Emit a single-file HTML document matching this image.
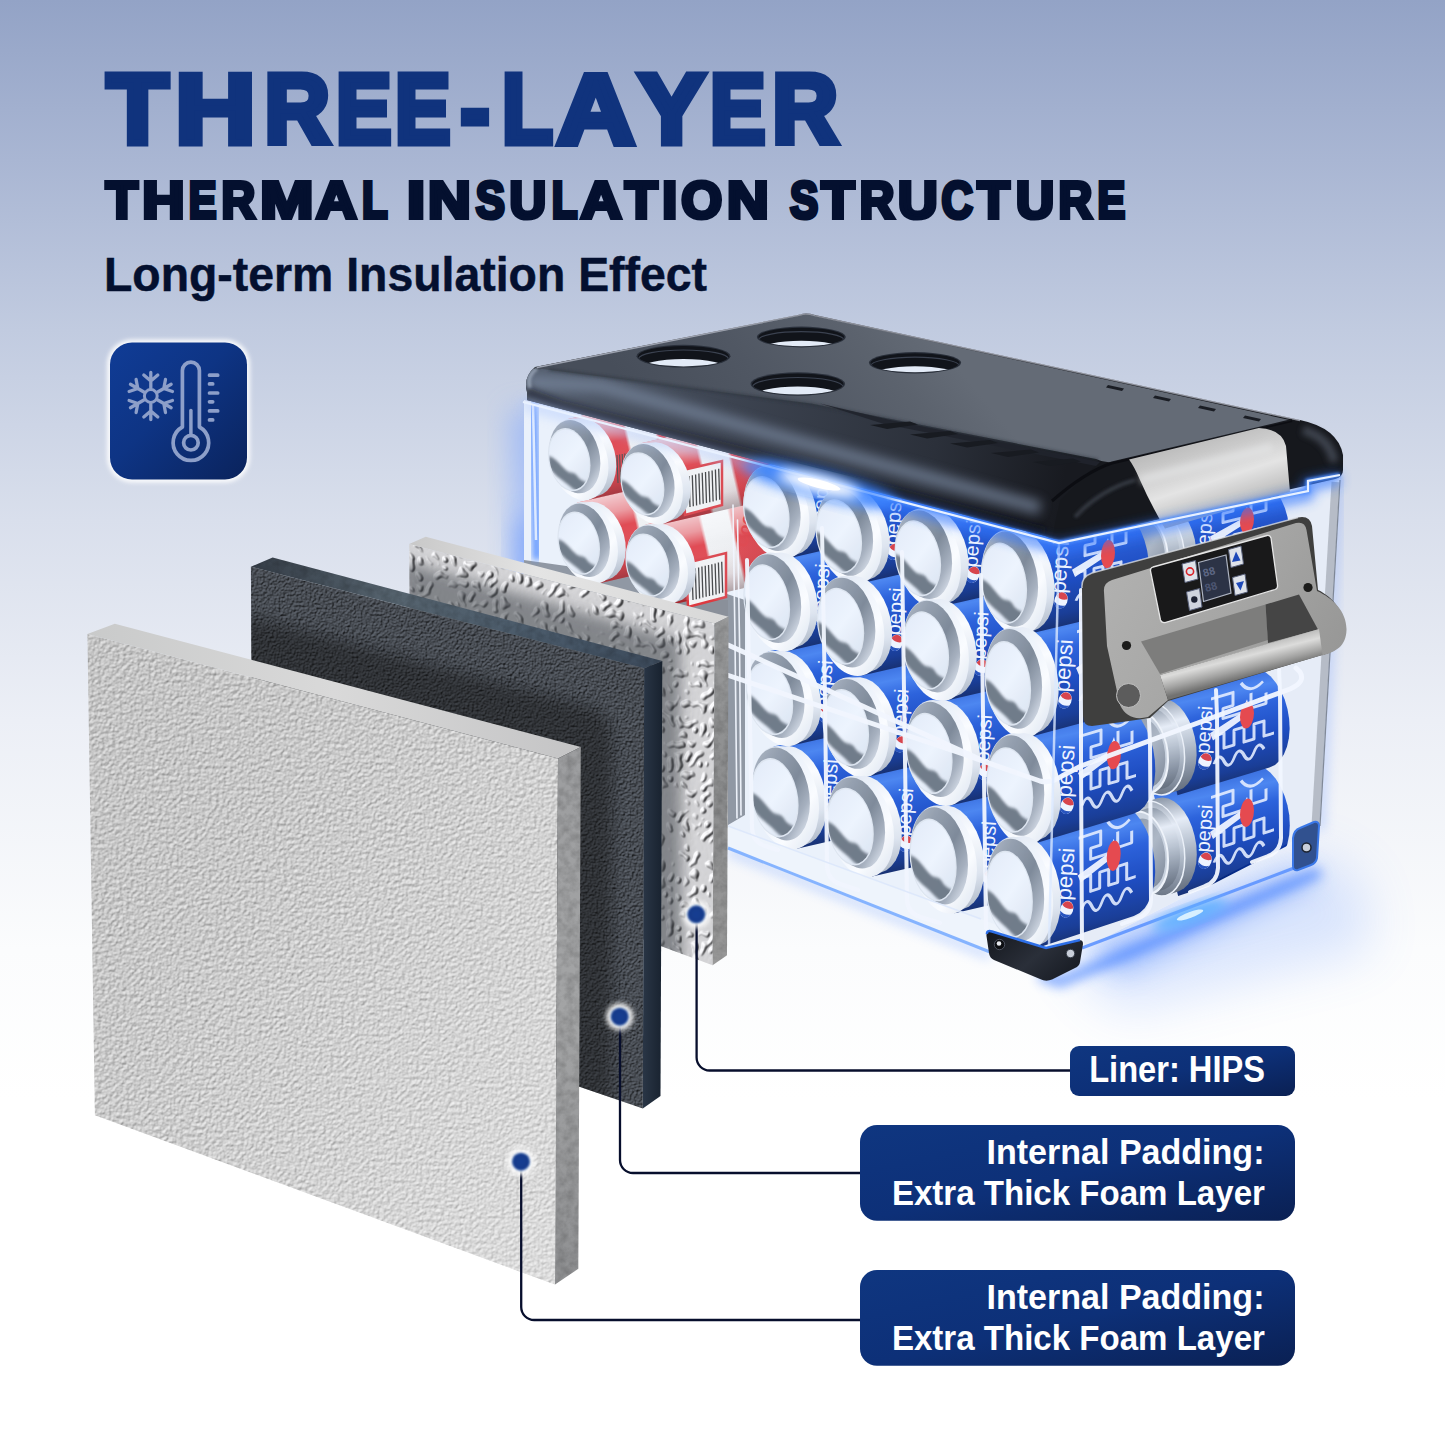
<!DOCTYPE html>
<html lang="en">
<head>
<meta charset="utf-8">
<title>Three-Layer Thermal Insulation Structure</title>
<style>
html,body{margin:0;padding:0;background:#fff;}
body{width:1445px;height:1445px;overflow:hidden;position:relative;font-family:"Liberation Sans",sans-serif;}
#bg{position:absolute;left:0;top:0;width:1445px;height:1445px;
background:linear-gradient(180deg,#93a3c6 0px,#a9b6d3 160px,#c1cbe0 330px,#d9dfec 520px,#eceff6 720px,#fbfcfd 950px,#ffffff 1100px);}
svg{position:absolute;left:0;top:0;}
text{font-family:"Liberation Sans",sans-serif;font-weight:bold;}
</style>
</head>
<body>
<div id="bg"></div>
<svg id="art" width="1445" height="1445" viewBox="0 0 1445 1445">
<defs>
<linearGradient id="icg" x1="0" y1="0" x2="1" y2="1">
<stop offset="0" stop-color="#103c96"/><stop offset="0.45" stop-color="#0e3484"/><stop offset="1" stop-color="#0a235c"/>
</linearGradient>
<linearGradient id="lbg" x1="0" y1="0" x2="1" y2="1">
<stop offset="0" stop-color="#0f3680"/><stop offset="0.5" stop-color="#0d3078"/><stop offset="1" stop-color="#0a2053"/>
</linearGradient>
<filter id="blur3" x="-20%" y="-20%" width="140%" height="140%"><feGaussianBlur stdDeviation="2.2"/></filter>
<filter id="blur2" x="-50%" y="-50%" width="200%" height="200%"><feGaussianBlur stdDeviation="2.5"/></filter>

<filter id="texFront" x="0" y="0" width="100%" height="100%" color-interpolation-filters="sRGB">
  <feTurbulence type="fractalNoise" baseFrequency="0.28" numOctaves="2" seed="7" result="n"/>
  <feDiffuseLighting in="n" surfaceScale="0.75" diffuseConstant="1" lighting-color="#f5f5f5" result="l"><feDistantLight azimuth="235" elevation="56"/></feDiffuseLighting>
  <feComposite in="l" in2="SourceAlpha" operator="in"/>
</filter>
<filter id="texDark" x="0" y="0" width="100%" height="100%" color-interpolation-filters="sRGB">
  <feTurbulence type="fractalNoise" baseFrequency="0.45" numOctaves="2" seed="11" result="n"/>
  <feDiffuseLighting in="n" surfaceScale="1.6" diffuseConstant="1" lighting-color="#5f656e" result="l"><feDistantLight azimuth="235" elevation="50"/></feDiffuseLighting>
  <feComposite in="l" in2="SourceAlpha" operator="in"/>
</filter>
<filter id="texLiner" x="0" y="0" width="100%" height="100%" color-interpolation-filters="sRGB">
  <feTurbulence type="turbulence" baseFrequency="0.12 0.10" numOctaves="1" seed="5" result="n"/>
  <feComponentTransfer in="n" result="n2"><feFuncA type="table" tableValues="0 0.02 0.6 1 1 1"/></feComponentTransfer>
  <feGaussianBlur in="n2" stdDeviation="0.55" result="n3"/>
  <feDiffuseLighting in="n3" surfaceScale="1.9" diffuseConstant="1" lighting-color="#ffffff" result="l"><feDistantLight azimuth="215" elevation="52"/></feDiffuseLighting>
  <feComponentTransfer in="l" result="l2"><feFuncR type="linear" slope="0.8" intercept="0.2"/><feFuncG type="linear" slope="0.8" intercept="0.2"/><feFuncB type="linear" slope="0.8" intercept="0.21"/></feComponentTransfer>
  <feComposite in="l2" in2="SourceAlpha" operator="in"/>
</filter>
<filter id="texSide" x="0" y="0" width="100%" height="100%" color-interpolation-filters="sRGB">
  <feTurbulence type="fractalNoise" baseFrequency="0.12" numOctaves="3" seed="2" result="n"/>
  <feColorMatrix in="n" type="matrix" values="0 0 0 0 0  0 0 0 0 0  0 0 0 0 0  0.3 0 0 0 -0.1" result="a"/>
  <feComposite in="a" in2="SourceAlpha" operator="in" result="b"/>
  <feMerge><feMergeNode in="SourceGraphic"/><feMergeNode in="b"/></feMerge>
</filter>
<filter id="sh12" x="-30%" y="-30%" width="160%" height="160%"><feGaussianBlur stdDeviation="12"/></filter>
<filter id="sh7" x="-30%" y="-30%" width="160%" height="160%"><feGaussianBlur stdDeviation="7"/></filter>
<linearGradient id="gFrontOv" x1="0" y1="0" x2="1" y2="1">
 <stop offset="0" stop-color="#000" stop-opacity="0.03"/><stop offset="0.5" stop-color="#fff" stop-opacity="0.06"/><stop offset="1" stop-color="#fff" stop-opacity="0.34"/>
</linearGradient>
<linearGradient id="gFrontTop" x1="0" y1="0" x2="1" y2="0">
 <stop offset="0" stop-color="#c9caca"/><stop offset="0.5" stop-color="#d9d9d9"/><stop offset="1" stop-color="#c4c4c5"/>
</linearGradient>
<linearGradient id="gFrontSide" x1="0" y1="0" x2="0" y2="1">
 <stop offset="0" stop-color="#9c9d9f"/><stop offset="0.5" stop-color="#a3a4a5"/><stop offset="1" stop-color="#8f9092"/>
</linearGradient>
<linearGradient id="gDarkTop" x1="0" y1="0" x2="1" y2="0">
 <stop offset="0" stop-color="#353d47"/><stop offset="0.35" stop-color="#56646f"/><stop offset="0.7" stop-color="#4a5a6a"/><stop offset="1" stop-color="#3c4a5b"/>
</linearGradient>
<linearGradient id="gDarkSide" x1="0" y1="0" x2="1" y2="0">
 <stop offset="0" stop-color="#2a3646"/><stop offset="1" stop-color="#18222f"/>
</linearGradient>
<linearGradient id="gLinerTop" x1="0" y1="0" x2="1" y2="0">
 <stop offset="0" stop-color="#c8c8c8"/><stop offset="0.4" stop-color="#e4e4e4"/><stop offset="1" stop-color="#d8d8d8"/>
</linearGradient>
<linearGradient id="gLinerSide" x1="0" y1="0" x2="0" y2="1">
 <stop offset="0" stop-color="#9a9b9c"/><stop offset="0.5" stop-color="#8c8d8e"/><stop offset="1" stop-color="#9a9a9a"/>
</linearGradient>
<clipPath id="cpDarkFront"><polygon points="250.9,566.8 644.2,668.3 642.8,1108.6 253,974.5"/></clipPath>
<clipPath id="cpLinerFront"><polygon points="409.2,543.9 714.6,623.5 712.6,965.3 411,853.7"/></clipPath>

<filter id="b1" x="-30%" y="-30%" width="160%" height="160%"><feGaussianBlur stdDeviation="1.6"/></filter>
<filter id="bl6" x="-30%" y="-30%" width="160%" height="160%"><feGaussianBlur stdDeviation="6"/></filter>
<filter id="bl14" x="-50%" y="-50%" width="200%" height="200%"><feGaussianBlur stdDeviation="14"/></filter>
<filter id="bl25" x="-50%" y="-50%" width="200%" height="200%"><feGaussianBlur stdDeviation="25"/></filter>
<linearGradient id="gRim" x1="0" y1="0.1" x2="1" y2="0.9">
 <stop offset="0" stop-color="#d6dde8"/><stop offset="0.35" stop-color="#eef3fa"/><stop offset="0.7" stop-color="#ffffff"/><stop offset="1" stop-color="#dde4ee"/>
</linearGradient>
<linearGradient id="gRim2" x1="0" y1="0" x2="1" y2="0.75">
 <stop offset="0" stop-color="#b4bcc8"/><stop offset="0.3" stop-color="#8f99a7"/><stop offset="0.62" stop-color="#76818f"/><stop offset="0.85" stop-color="#a3acb9"/><stop offset="1" stop-color="#d9dfe8"/>
</linearGradient>
<linearGradient id="gDisc" x1="0" y1="0" x2="1" y2="1">
 <stop offset="0" stop-color="#e4ecf8"/><stop offset="0.5" stop-color="#f1f6fe"/><stop offset="1" stop-color="#d9e2ee"/>
</linearGradient>
<linearGradient id="gBlueBody" x1="0" y1="0" x2="0.2" y2="1">
 <stop offset="0" stop-color="#3d7bea"/><stop offset="0.18" stop-color="#1b55d6"/><stop offset="0.5" stop-color="#0c3fc0"/><stop offset="0.85" stop-color="#07308f"/><stop offset="1" stop-color="#052670"/>
</linearGradient>
<linearGradient id="gRedBody" x1="0" y1="0" x2="0.2" y2="1">
 <stop offset="0" stop-color="#f3a0a0"/><stop offset="0.2" stop-color="#e8434a"/><stop offset="0.6" stop-color="#d8232c"/><stop offset="1" stop-color="#a5161e"/>
</linearGradient>

<filter id="b3" x="-30%" y="-30%" width="160%" height="160%"><feGaussianBlur stdDeviation="3"/></filter>
<linearGradient id="gBlueBodyU" gradientUnits="userSpaceOnUse" x1="-11" y1="-50" x2="11" y2="50">
 <stop offset="0" stop-color="#2e68e0"/><stop offset="0.12" stop-color="#3f7df0"/><stop offset="0.3" stop-color="#1b55d8"/><stop offset="0.6" stop-color="#0b3cba"/><stop offset="0.88" stop-color="#062c8c"/><stop offset="1" stop-color="#041f66"/>
</linearGradient>
<linearGradient id="gRedBodyU" gradientUnits="userSpaceOnUse" x1="-11" y1="-50" x2="11" y2="50">
 <stop offset="0" stop-color="#f7c4c4"/><stop offset="0.15" stop-color="#f5f5f5"/><stop offset="0.3" stop-color="#e8424a"/><stop offset="0.7" stop-color="#d8232c"/><stop offset="1" stop-color="#9c141c"/>
</linearGradient>
<linearGradient id="gEnd" x1="0" y1="0" x2="1" y2="1"><stop offset="0" stop-color="#7b8696"/><stop offset="0.5" stop-color="#aab3c0"/><stop offset="1" stop-color="#6d7786"/></linearGradient>
<linearGradient id="gLidTop" gradientUnits="userSpaceOnUse" x1="700" y1="470" x2="900" y2="300">
 <stop offset="0" stop-color="#474e5a"/><stop offset="0.4" stop-color="#505763"/><stop offset="0.8" stop-color="#5c636e"/><stop offset="1" stop-color="#646b76"/>
</linearGradient>
<linearGradient id="gLidFront" gradientUnits="userSpaceOnUse" x1="540" y1="390" x2="1060" y2="500">
 <stop offset="0" stop-color="#535d6d"/><stop offset="0.35" stop-color="#3d4451"/><stop offset="0.75" stop-color="#2b303a"/><stop offset="1" stop-color="#181a20"/>
</linearGradient>
<linearGradient id="gLatch" gradientUnits="userSpaceOnUse" x1="1195" y1="440" x2="1222" y2="525">
 <stop offset="0" stop-color="#bcbcbc"/><stop offset="0.3" stop-color="#d2d2d2"/><stop offset="0.5" stop-color="#e4e4e4"/><stop offset="0.75" stop-color="#c6c6c6"/><stop offset="1" stop-color="#9c9c9c"/>
</linearGradient>
<linearGradient id="gHandle" gradientUnits="userSpaceOnUse" x1="1110" y1="560" x2="1330" y2="680">
 <stop offset="0" stop-color="#b1b1b0"/><stop offset="0.5" stop-color="#a6a6a5"/><stop offset="1" stop-color="#979796"/>
</linearGradient>
<linearGradient id="gGrip" gradientUnits="userSpaceOnUse" x1="1236" y1="650" x2="1243" y2="678">
 <stop offset="0" stop-color="#bdbdbc"/><stop offset="0.3" stop-color="#dcdcdb"/><stop offset="0.7" stop-color="#a3a3a2"/><stop offset="1" stop-color="#727271"/>
</linearGradient>
<linearGradient id="gFoot" x1="0" y1="0" x2="1" y2="0.6">
 <stop offset="0" stop-color="#14171d"/><stop offset="0.6" stop-color="#2a2f39"/><stop offset="1" stop-color="#1a1e26"/>
</linearGradient>
<linearGradient id="gNeckU" gradientUnits="userSpaceOnUse" x1="-11" y1="-50" x2="11" y2="50">
 <stop offset="0" stop-color="#e9eef6"/><stop offset="0.3" stop-color="#ffffff"/><stop offset="0.7" stop-color="#dfe5ee"/><stop offset="1" stop-color="#aeb7c4"/>
</linearGradient>
<linearGradient id="gNeck2U" gradientUnits="userSpaceOnUse" x1="-11" y1="-50" x2="11" y2="50">
 <stop offset="0" stop-color="#8b95a3"/><stop offset="0.25" stop-color="#e9eef6"/><stop offset="0.5" stop-color="#b9c2ce"/><stop offset="0.8" stop-color="#7d8796"/><stop offset="1" stop-color="#59626f"/>
</linearGradient>
<linearGradient id="gRedAxU" gradientUnits="userSpaceOnUse" x1="0" y1="0" x2="140" y2="-32">
 <stop offset="0" stop-color="#e23b42"/><stop offset="0.44" stop-color="#e23b42"/><stop offset="0.47" stop-color="#f3f3f3"/><stop offset="0.70" stop-color="#f1f1f1"/><stop offset="0.73" stop-color="#e03a40"/><stop offset="1" stop-color="#d7333a"/>
</linearGradient>
<linearGradient id="gShadeU" gradientUnits="userSpaceOnUse" x1="-11" y1="-50" x2="11" y2="50">
 <stop offset="0" stop-color="#ffffff" stop-opacity="0.7"/><stop offset="0.2" stop-color="#ffffff" stop-opacity="0.45"/><stop offset="0.38" stop-color="#ffffff" stop-opacity="0"/><stop offset="0.8" stop-color="#5a0a10" stop-opacity="0.12"/><stop offset="1" stop-color="#300508" stop-opacity="0.35"/>
</linearGradient>
<filter id="b08" x="-30%" y="-30%" width="160%" height="160%"><feGaussianBlur stdDeviation="0.9"/></filter>
<radialGradient id="gDot"><stop offset="0" stop-color="#143f93"/><stop offset="0.7" stop-color="#123a8a"/><stop offset="1" stop-color="#1a4596"/></radialGradient>
</defs>

<!--PANELS-->
<g id="cooler">
<g id="glowBack">
<path d="M510,410 L516,640 L556,650 L556,410 Z" fill="#86abff" opacity="0.6" filter="url(#bl14)"/>
<path d="M516,520 L520,640 L545,645 L545,520 Z" fill="#4f86ff" opacity="0.5" filter="url(#bl14)"/>
<path d="M1060,950 L1310,850 L1362,880 L1372,950 L1120,1012 Z" fill="#5a8eff" opacity="0.2" filter="url(#bl25)"/>
<path d="M1085,950 L1300,868 L1320,880 L1120,975 Z" fill="#3f7dff" opacity="0.42" filter="url(#bl14)"/>
<path d="M728,851 L990,956" fill="none" stroke="#6a9bff" stroke-width="7" opacity="0.4" filter="url(#bl6)"/>
<path d="M1040,975 L1060,982 L1320,872" fill="none" stroke="#3d7bff" stroke-width="10" opacity="0.7" filter="url(#bl6)"/>
<path d="M1338,480 L1320,830" fill="none" stroke="#7aa2ff" stroke-width="8" opacity="0.45" filter="url(#bl6)"/>
</g>
<g id="interior">
<polygon points="524,400 1059,541 1340,476 1318,828 1075,953 1048,972 990,952 728,848 728,600 524,600" fill="#eef3fb"/>
<polygon points="524,560 700,585 745,600 745,815 728,825 728,640 524,640" fill="#8a909a"/>
<polygon points="1059,541 1340,476 1318,828 1075,953 1048,972" fill="#e9eef7"/>
<polygon points="728,826 981,919 1048,945 1048,972 990,952 728,848" fill="#f2f6fc"/>
</g>
<clipPath id="cpRight"><polygon points="1040,520 1338,470 1318,830 1075,955 1048,974 1040,974"/></clipPath>
<clipPath id="cpBox"><polygon points="522,396 1059,536 1340,470 1318,830 1075,955 1048,974 990,956 728,852 500,760"/></clipPath>
<g id="cansRight" clip-path="url(#cpRight)">
<g transform="translate(1166.0,845.4) scale(1.008)"><polygon points="-12.0,-50.1 79.3,-80.2 85.2,-81.1 91.4,-80.1 97.5,-77.1 103.4,-72.4 108.9,-66.0 113.7,-58.2 117.6,-49.3 120.5,-39.8 122.3,-29.8 122.8,-19.9 122.2,-10.3 120.4,-1.5 117.5,6.2 113.5,12.5 108.7,17.1 103.3,20.0 12.0,50.1" fill="url(#gBlueBodyU)"/></g>
<text transform="translate(1211.0,828.9) rotate(-86)" text-anchor="middle" font-size="20" fill="#f2f6ff" style="font-weight:normal">pepsi</text>
<g transform="translate(1205.0,860.6) rotate(20)"><ellipse rx="6.5" ry="8.5" fill="#f2f6ff"/><path d="M-5.8,-3 A6.3,8.3 0 0 1 5.8,-3 Q0,1 -5.8,-3Z" fill="#d8343a"/><path d="M-5.8,3.5 A6.3,8.3 0 0 0 5.8,3.5 Q0,7 -5.8,3.5Z" fill="#1746b8"/></g>
<g transform="matrix(1 -0.33 0 1 1210.0 830.9)">
<g fill="none" stroke="#e6eeff" stroke-width="3" opacity="0.9" stroke-linejoin="round">
<path d="M1,-33 h22 v13 h-10 v10 h22"/>
<path d="M4,5 h10 v15 h10 v-15 h10 v15 h10 v-15 h10 v15 h10"/>
<path d="M4,33 q5,-11 10,0 t10,0 t10,0 t10,0 t10,0"/>
<path d="M31,-40 q9,15 22,5"/>
<path d="M41,-28 v15 h15 v-11"/>
</g>
<path d="M0,1 l31,-11 l6,-12 l4,15 l-38,16 Z" fill="#f2f6ff" opacity="0.95"/>
<ellipse cx="37" cy="-6" rx="7" ry="14" fill="#e8393d"/>
</g>
<g transform="translate(1156.0,848.7) scale(0.927)"><polygon points="-11.6,-50.1 1.3,-54.4 7.1,-55.2 13.2,-54.2 19.3,-51.2 25.1,-46.4 30.4,-40.0 35.1,-32.2 38.9,-23.4 41.7,-13.8 43.5,-3.8 44.0,6.1 43.4,15.7 41.5,24.4 38.6,32.1 34.7,38.4 30.0,43.0 24.6,45.8 11.6,50.1" fill="url(#gNeck2U)"/></g>
<g transform="translate(1156.0,848.7) skewY(17.74)"><ellipse rx="28.8" ry="46.4" fill="url(#gNeck2U)" stroke="#eef2f8" stroke-width="1.5"/></g>
<g transform="translate(1144.0,852.7) scale(0.806)"><polygon points="-10.8,-50.1 4.0,-55.0 9.7,-55.8 15.5,-54.7 21.4,-51.7 26.9,-46.8 32.0,-40.4 36.5,-32.6 40.1,-23.7 42.8,-14.1 44.3,-4.2 44.8,5.8 44.1,15.3 42.3,24.0 39.4,31.6 35.6,37.8 31.0,42.4 25.7,45.2 10.8,50.1" fill="url(#gNeck2U)"/></g>
<g transform="translate(1144.0,852.7) skewY(17.74)"><ellipse rx="24.1" ry="40.3" fill="#c9d1dc" stroke="#f2f5fa" stroke-width="2"/><ellipse cx="2" rx="19.4" ry="34.3" fill="url(#gEnd)"/></g>
<g transform="translate(1166.0,745.5) scale(0.990)"><polygon points="-11.6,-50.2 81.3,-78.1 87.4,-78.8 93.6,-77.7 99.8,-74.6 105.8,-69.7 111.2,-63.2 116.0,-55.3 119.9,-46.4 122.7,-36.8 124.4,-26.8 124.9,-16.9 124.1,-7.4 122.2,1.3 119.1,8.9 115.0,15.1 110.1,19.6 104.5,22.3 11.6,50.2" fill="url(#gBlueBodyU)"/></g>
<text transform="translate(1211.0,730.1) rotate(-86)" text-anchor="middle" font-size="20" fill="#f2f6ff" style="font-weight:normal">pepsi</text>
<g transform="translate(1205.0,761.3) rotate(20)"><ellipse rx="6.5" ry="8.5" fill="#f2f6ff"/><path d="M-5.8,-3 A6.3,8.3 0 0 1 5.8,-3 Q0,1 -5.8,-3Z" fill="#d8343a"/><path d="M-5.8,3.5 A6.3,8.3 0 0 0 5.8,3.5 Q0,7 -5.8,3.5Z" fill="#1746b8"/></g>
<g transform="matrix(1 -0.3 0 1 1210.0 732.3)">
<g fill="none" stroke="#e6eeff" stroke-width="3" opacity="0.9" stroke-linejoin="round">
<path d="M1,-33 h22 v13 h-10 v10 h22"/>
<path d="M4,5 h10 v15 h10 v-15 h10 v15 h10 v-15 h10 v15 h10"/>
<path d="M4,33 q5,-11 10,0 t10,0 t10,0 t10,0 t10,0"/>
<path d="M31,-40 q9,15 22,5"/>
<path d="M41,-27 v15 h15 v-11"/>
</g>
<path d="M0,1 l31,-11 l6,-12 l4,15 l-38,16 Z" fill="#f2f6ff" opacity="0.95"/>
<ellipse cx="37" cy="-6" rx="7" ry="13" fill="#e8393d"/>
</g>
<g transform="translate(1156.0,748.5) scale(0.911)"><polygon points="-11.3,-50.2 1.9,-54.1 7.9,-54.9 14.0,-53.7 20.1,-50.6 26.0,-45.7 31.3,-39.2 36.0,-31.3 39.8,-22.4 42.5,-12.8 44.2,-2.8 44.6,7.1 43.8,16.6 41.9,25.3 38.8,32.9 34.8,39.0 29.9,43.5 24.4,46.2 11.3,50.2" fill="url(#gNeck2U)"/></g>
<g transform="translate(1156.0,748.5) skewY(17.22)"><ellipse rx="28.6" ry="45.5" fill="url(#gNeck2U)" stroke="#eef2f8" stroke-width="1.5"/></g>
<g transform="translate(1144.0,752.1) scale(0.792)"><polygon points="-10.5,-50.2 4.7,-54.7 10.4,-55.4 16.3,-54.1 22.2,-51.0 27.8,-46.0 32.9,-39.5 37.4,-31.6 41.0,-22.7 43.5,-13.1 45.0,-3.1 45.4,6.8 44.6,16.2 42.6,24.9 39.6,32.4 35.7,38.5 31.0,43.0 25.6,45.6 10.5,50.2" fill="url(#gNeck2U)"/></g>
<g transform="translate(1144.0,752.1) skewY(17.22)"><ellipse rx="24.0" ry="39.6" fill="#c9d1dc" stroke="#f2f5fa" stroke-width="2"/><ellipse cx="2" rx="19.3" ry="33.7" fill="url(#gEnd)"/></g>
<g transform="translate(1166.0,642.6) scale(0.981)"><polygon points="-10.9,-50.3 82.8,-75.6 88.9,-76.2 95.2,-74.9 101.4,-71.6 107.3,-66.6 112.7,-60.0 117.3,-52.0 121.1,-43.1 123.8,-33.4 125.4,-23.5 125.7,-13.6 124.8,-4.1 122.7,4.5 119.6,12.0 115.4,18.0 110.4,22.4 104.7,24.9 10.9,50.3" fill="url(#gBlueBodyU)"/></g>
<text transform="translate(1211.0,628.4) rotate(-86)" text-anchor="middle" font-size="20" fill="#f2f6ff" style="font-weight:normal">pepsi</text>
<g transform="translate(1205.0,659.4) rotate(20)"><ellipse rx="6.5" ry="8.5" fill="#f2f6ff"/><path d="M-5.8,-3 A6.3,8.3 0 0 1 5.8,-3 Q0,1 -5.8,-3Z" fill="#d8343a"/><path d="M-5.8,3.5 A6.3,8.3 0 0 0 5.8,3.5 Q0,7 -5.8,3.5Z" fill="#1746b8"/></g>
<g transform="matrix(1 -0.27 0 1 1210.0 630.8)">
<g fill="none" stroke="#e6eeff" stroke-width="3" opacity="0.9" stroke-linejoin="round">
<path d="M1,-32 h22 v13 h-10 v10 h22"/>
<path d="M4,5 h10 v15 h10 v-15 h10 v15 h10 v-15 h10 v15 h10"/>
<path d="M4,32 q5,-11 10,0 t10,0 t10,0 t10,0 t10,0"/>
<path d="M31,-39 q9,15 22,5"/>
<path d="M41,-27 v15 h15 v-11"/>
</g>
<path d="M0,1 l31,-11 l6,-12 l4,15 l-38,16 Z" fill="#f2f6ff" opacity="0.95"/>
<ellipse cx="37" cy="-6" rx="7" ry="13" fill="#e8393d"/>
</g>
<g transform="translate(1156.0,645.3) scale(0.903)"><polygon points="-10.6,-50.3 2.7,-53.8 8.7,-54.4 14.8,-53.1 20.9,-49.8 26.7,-44.8 32.0,-38.2 36.6,-30.2 40.3,-21.2 42.9,-11.6 44.4,-1.6 44.7,8.3 43.8,17.7 41.7,26.3 38.6,33.8 34.4,39.8 29.5,44.1 23.9,46.7 10.6,50.3" fill="url(#gNeck2U)"/></g>
<g transform="translate(1156.0,645.3) skewY(16.70)"><ellipse rx="28.4" ry="45.1" fill="url(#gNeck2U)" stroke="#eef2f8" stroke-width="1.5"/></g>
<g transform="translate(1144.0,648.6) scale(0.785)"><polygon points="-9.9,-50.2 5.4,-54.4 11.2,-54.9 17.1,-53.5 23.0,-50.2 28.5,-45.1 33.6,-38.5 38.0,-30.5 41.4,-21.5 43.9,-11.9 45.3,-1.9 45.5,8.0 44.6,17.4 42.5,25.9 39.4,33.3 35.4,39.3 30.6,43.6 25.2,46.1 9.9,50.2" fill="url(#gNeck2U)"/></g>
<g transform="translate(1144.0,648.6) skewY(16.70)"><ellipse rx="23.8" ry="39.2" fill="#c9d1dc" stroke="#f2f5fa" stroke-width="2"/><ellipse cx="2" rx="19.1" ry="33.4" fill="url(#gEnd)"/></g>
<g transform="translate(1166.0,546.1) scale(0.936)"><polygon points="-11.4,-50.4 86.9,-74.0 93.3,-74.5 99.8,-73.1 106.3,-69.7 112.5,-64.6 118.1,-57.9 123.0,-49.9 127.0,-40.8 129.8,-31.1 131.4,-21.2 131.7,-11.3 130.8,-1.9 128.6,6.7 125.3,14.1 120.9,20.1 115.6,24.4 109.7,26.8 11.4,50.4" fill="url(#gBlueBodyU)"/></g>
<text transform="translate(1211.0,533.0) rotate(-86)" text-anchor="middle" font-size="20" fill="#f2f6ff" style="font-weight:normal">pepsi</text>
<g transform="translate(1205.0,562.7) rotate(20)"><ellipse rx="6.5" ry="8.5" fill="#f2f6ff"/><path d="M-5.8,-3 A6.3,8.3 0 0 1 5.8,-3 Q0,1 -5.8,-3Z" fill="#d8343a"/><path d="M-5.8,3.5 A6.3,8.3 0 0 0 5.8,3.5 Q0,7 -5.8,3.5Z" fill="#1746b8"/></g>
<g transform="matrix(1 -0.24 0 1 1210.0 535.6)">
<g fill="none" stroke="#e6eeff" stroke-width="3" opacity="0.9" stroke-linejoin="round">
<path d="M1,-31 h22 v12 h-10 v9 h22"/>
<path d="M4,5 h10 v14 h10 v-14 h10 v14 h10 v-14 h10 v14 h10"/>
<path d="M4,31 q5,-10 10,0 t10,0 t10,0 t10,0 t10,0"/>
<path d="M31,-37 q9,14 22,5"/>
<path d="M41,-26 v14 h15 v-10"/>
</g>
<path d="M0,1 l31,-10 l6,-11 l4,14 l-38,15 Z" fill="#f2f6ff" opacity="0.95"/>
<ellipse cx="37" cy="-6" rx="7" ry="13" fill="#e8393d"/>
</g>
<g transform="translate(1156.0,548.5) scale(0.861)"><polygon points="-11.1,-50.4 2.9,-53.8 9.2,-54.2 15.6,-52.8 22.0,-49.4 28.1,-44.3 33.6,-37.6 38.4,-29.5 42.2,-20.5 45.0,-10.8 46.5,-0.8 46.8,9.1 45.9,18.5 43.7,27.0 40.4,34.4 36.0,40.4 30.8,44.7 25.0,47.1 11.1,50.4" fill="url(#gNeck2U)"/></g>
<g transform="translate(1156.0,548.5) skewY(16.70)"><ellipse rx="28.4" ry="43.1" fill="url(#gNeck2U)" stroke="#eef2f8" stroke-width="1.5"/></g>
<g transform="translate(1144.0,551.4) scale(0.749)"><polygon points="-10.3,-50.4 5.7,-54.2 11.8,-54.7 18.0,-53.2 24.1,-49.7 30.0,-44.6 35.3,-37.8 39.8,-29.8 43.5,-20.7 46.0,-11.1 47.5,-1.1 47.7,8.8 46.7,18.2 44.5,26.7 41.3,34.0 37.0,39.9 32.0,44.2 26.3,46.5 10.3,50.4" fill="url(#gNeck2U)"/></g>
<g transform="translate(1144.0,551.4) skewY(16.70)"><ellipse rx="23.8" ry="37.4" fill="#c9d1dc" stroke="#f2f5fa" stroke-width="2"/><ellipse cx="2" rx="19.1" ry="31.8" fill="url(#gEnd)"/></g>
</g>
<g id="cansRed" clip-path="url(#cpBox)">
<g transform="translate(588.0,543.0) scale(0.800)"><polygon points="-13.4,-50.5 61.6,-67.7 68.7,-68.3 76.0,-66.9 83.3,-63.7 90.3,-58.6 96.7,-52.0 102.2,-44.0 106.7,-35.0 110.0,-25.3 112.0,-15.3 112.5,-5.4 111.6,4.1 109.2,12.7 105.6,20.2 100.8,26.3 95.0,30.7 88.4,33.2 13.4,50.5" fill="url(#gRedAxU)"/></g>
<g transform="translate(588.0,543.0) scale(0.800)"><polygon points="-13.4,-50.5 61.6,-67.7 68.7,-68.3 76.0,-66.9 83.3,-63.7 90.3,-58.6 96.7,-52.0 102.2,-44.0 106.7,-35.0 110.0,-25.3 112.0,-15.3 112.5,-5.4 111.6,4.1 109.2,12.7 105.6,20.2 100.8,26.3 95.0,30.7 88.4,33.2 13.4,50.5" fill="url(#gShadeU)"/></g>
<g transform="translate(578.5,459.4) scale(0.800)"><polygon points="-13.2,-50.4 61.8,-67.6 68.9,-68.2 76.3,-66.9 83.6,-63.6 90.5,-58.6 96.9,-51.9 102.4,-44.0 106.9,-35.0 110.1,-25.3 112.0,-15.3 112.5,-5.4 111.5,4.0 109.1,12.7 105.5,20.1 100.6,26.2 94.8,30.6 88.2,33.1 13.2,50.4" fill="url(#gRedAxU)"/></g>
<g transform="translate(578.5,459.4) scale(0.800)"><polygon points="-13.2,-50.4 61.8,-67.6 68.9,-68.2 76.3,-66.9 83.6,-63.6 90.5,-58.6 96.9,-51.9 102.4,-44.0 106.9,-35.0 110.1,-25.3 112.0,-15.3 112.5,-5.4 111.5,4.0 109.1,12.7 105.5,20.1 100.6,26.2 94.8,30.6 88.2,33.1 13.2,50.4" fill="url(#gShadeU)"/></g>
<g stroke="#444" stroke-width="1.1"><line x1="617.0" y1="455.0" x2="618.0" y2="483.0"/><line x1="619.6" y1="454.5" x2="620.6" y2="482.5"/><line x1="622.2" y1="454.0" x2="623.2" y2="482.0"/><line x1="624.8" y1="453.5" x2="625.8" y2="481.5"/><line x1="627.4" y1="453.0" x2="628.4" y2="481.0"/></g>
<g transform="translate(588.0,543.0) scale(0.768)"><polygon points="-13.4,-50.5 -1.7,-53.1 5.4,-53.7 12.7,-52.4 20.0,-49.1 27.0,-44.1 33.4,-37.4 39.0,-29.4 43.5,-20.4 46.7,-10.8 48.7,-0.8 49.2,9.2 48.3,18.6 46.0,27.3 42.3,34.8 37.5,40.8 31.7,45.2 25.1,47.8 13.4,50.5" fill="url(#gNeckU)"/></g>
<g transform="translate(588.0,543.0) skewY(15.64)">
<ellipse rx="30.0" ry="40.0" fill="url(#gRim)"/>
<ellipse cx="-3.6" cy="-1.8" rx="25.5" ry="36.0" fill="url(#gRim2)"/>
<ellipse cx="-9.3" cy="2.8" rx="21.3" ry="31.1" fill="#dfe6ef"/>
<ellipse cx="-9.3" cy="2.8" rx="20.1" ry="29.6" fill="url(#gDisc)"/>
<clipPath id="dc5880_5430"><ellipse cx="-9.3" cy="2.8" rx="20.1" ry="29.6"/></clipPath>
<g clip-path="url(#dc5880_5430)"><path d="M-30.0,4.8 C-22.5,4.0 -16.5,12.8 -10.5,15.2 C-6.0,16.0 -3.6,12.8 0.0,18.4 C3.0,20.8 7.5,20.0 12.0,22.4 L10.8,28.8 C4.5,36.0 -4.5,32.0 -10.5,28.0 C-18.0,24.0 -25.5,22.0 -30.0,14.4 Z" fill="#5c6672" opacity="0.92" filter="url(#b1)"/></g>
</g>
<g transform="translate(578.5,459.4) scale(0.768)"><polygon points="-13.2,-50.4 -1.4,-53.1 5.7,-53.7 13.0,-52.3 20.3,-49.1 27.2,-44.0 33.6,-37.4 39.1,-29.4 43.6,-20.4 46.8,-10.8 48.7,-0.8 49.2,9.1 48.2,18.6 45.9,27.2 42.2,34.7 37.3,40.8 31.5,45.1 24.9,47.7 13.2,50.4" fill="url(#gNeckU)"/></g>
<g transform="translate(578.5,459.4) skewY(15.11)">
<ellipse rx="30.0" ry="40.0" fill="url(#gRim)"/>
<ellipse cx="-3.6" cy="-1.8" rx="25.5" ry="36.0" fill="url(#gRim2)"/>
<ellipse cx="-9.3" cy="2.8" rx="21.3" ry="31.1" fill="#dfe6ef"/>
<ellipse cx="-9.3" cy="2.8" rx="20.1" ry="29.6" fill="url(#gDisc)"/>
<clipPath id="dc5785_4594"><ellipse cx="-9.3" cy="2.8" rx="20.1" ry="29.6"/></clipPath>
<g clip-path="url(#dc5785_4594)"><path d="M-30.0,4.8 C-22.5,4.0 -16.5,12.8 -10.5,15.2 C-6.0,16.0 -3.6,12.8 0.0,18.4 C3.0,20.8 7.5,20.0 12.0,22.4 L10.8,28.8 C4.5,36.0 -4.5,32.0 -10.5,28.0 C-18.0,24.0 -25.5,22.0 -30.0,14.4 Z" fill="#5c6672" opacity="0.92" filter="url(#b1)"/></g>
</g>
<g transform="translate(657.0,565.0) scale(0.800)"><polygon points="-14.2,-50.5 123.3,-82.1 130.6,-82.8 138.1,-81.4 145.7,-78.2 152.9,-73.2 159.6,-66.6 165.3,-58.6 170.1,-49.6 173.5,-39.9 175.6,-29.9 176.2,-20.0 175.4,-10.5 173.1,-1.8 169.4,5.7 164.5,11.8 158.5,16.3 151.7,18.9 14.2,50.5" fill="url(#gRedAxU)"/></g>
<g transform="translate(657.0,565.0) scale(0.800)"><polygon points="-14.2,-50.5 123.3,-82.1 130.6,-82.8 138.1,-81.4 145.7,-78.2 152.9,-73.2 159.6,-66.6 165.3,-58.6 170.1,-49.6 173.5,-39.9 175.6,-29.9 176.2,-20.0 175.4,-10.5 173.1,-1.8 169.4,5.7 164.5,11.8 158.5,16.3 151.7,18.9 14.2,50.5" fill="url(#gShadeU)"/></g>
<g transform="translate(652.0,483.6) scale(0.800)"><polygon points="-14.0,-50.4 123.5,-82.0 130.8,-82.7 138.4,-81.4 145.9,-78.2 153.1,-73.1 159.8,-66.5 165.5,-58.6 170.2,-49.6 173.6,-39.9 175.7,-29.9 176.2,-20.0 175.3,-10.5 172.9,-1.9 169.2,5.7 164.3,11.8 158.3,16.2 151.5,18.8 14.0,50.4" fill="url(#gRedAxU)"/></g>
<g transform="translate(652.0,483.6) scale(0.800)"><polygon points="-14.0,-50.4 123.5,-82.0 130.8,-82.7 138.4,-81.4 145.9,-78.2 153.1,-73.1 159.8,-66.5 165.5,-58.6 170.2,-49.6 173.6,-39.9 175.7,-29.9 176.2,-20.0 175.3,-10.5 172.9,-1.9 169.2,5.7 164.3,11.8 158.3,16.2 151.5,18.8 14.0,50.4" fill="url(#gShadeU)"/></g>
<polygon points="683,470 722,461 722,505 685,515" fill="#f4f4f4" stroke="#dd3a40" stroke-width="2.5"/>
<polygon points="686,563 726,553 726,597 688,607" fill="#f4f4f4" stroke="#dd3a40" stroke-width="2.5"/>
<g stroke="#3a3a3a" stroke-width="1.3"><line x1="689.0" y1="476.0" x2="690.0" y2="507.0"/><line x1="692.3" y1="475.2" x2="693.3" y2="506.2"/><line x1="695.6" y1="474.4" x2="696.6" y2="505.4"/><line x1="698.9" y1="473.6" x2="699.9" y2="504.6"/><line x1="702.2" y1="472.8" x2="703.2" y2="503.8"/><line x1="705.5" y1="472.0" x2="706.5" y2="503.0"/><line x1="708.8" y1="471.2" x2="709.8" y2="502.2"/><line x1="712.1" y1="470.4" x2="713.1" y2="501.4"/><line x1="715.4" y1="469.6" x2="716.4" y2="500.6"/><line x1="718.7" y1="468.8" x2="719.7" y2="499.8"/></g>
<g stroke="#3a3a3a" stroke-width="1.3"><line x1="692.0" y1="569.0" x2="693.0" y2="600.0"/><line x1="695.3" y1="568.2" x2="696.3" y2="599.2"/><line x1="698.6" y1="567.4" x2="699.6" y2="598.4"/><line x1="701.9" y1="566.6" x2="702.9" y2="597.6"/><line x1="705.2" y1="565.8" x2="706.2" y2="596.8"/><line x1="708.5" y1="565.0" x2="709.5" y2="596.0"/><line x1="711.8" y1="564.2" x2="712.8" y2="595.2"/><line x1="715.1" y1="563.4" x2="716.1" y2="594.4"/><line x1="718.4" y1="562.6" x2="719.4" y2="593.6"/><line x1="721.7" y1="561.8" x2="722.7" y2="592.8"/></g>
<text transform="translate(747,548) rotate(-80)" font-size="17" fill="#e03a40" style="font-style:italic">Coca-Cola</text>
<g transform="translate(657.0,565.0) scale(0.768)"><polygon points="-14.2,-50.5 -2.5,-53.2 4.8,-53.8 12.4,-52.5 19.9,-49.3 27.1,-44.3 33.8,-37.6 39.6,-29.7 44.3,-20.7 47.8,-11.0 49.8,-1.0 50.5,9.0 49.6,18.5 47.3,27.1 43.6,34.7 38.7,40.8 32.7,45.2 26.0,47.8 14.2,50.5" fill="url(#gNeckU)"/></g>
<g transform="translate(657.0,565.0) skewY(15.64)">
<ellipse rx="31.0" ry="40.0" fill="url(#gRim)"/>
<ellipse cx="-3.7" cy="-1.8" rx="26.3" ry="36.0" fill="url(#gRim2)"/>
<ellipse cx="-9.6" cy="2.8" rx="22.0" ry="31.1" fill="#dfe6ef"/>
<ellipse cx="-9.6" cy="2.8" rx="20.8" ry="29.6" fill="url(#gDisc)"/>
<clipPath id="dc6570_5650"><ellipse cx="-9.6" cy="2.8" rx="20.8" ry="29.6"/></clipPath>
<g clip-path="url(#dc6570_5650)"><path d="M-31.0,4.8 C-23.2,4.0 -17.1,12.8 -10.8,15.2 C-6.2,16.0 -3.7,12.8 0.0,18.4 C3.1,20.8 7.8,20.0 12.4,22.4 L11.2,28.8 C4.6,36.0 -4.6,32.0 -10.8,28.0 C-18.6,24.0 -26.3,22.0 -31.0,14.4 Z" fill="#5c6672" opacity="0.92" filter="url(#b1)"/></g>
</g>
<g transform="translate(652.0,483.6) scale(0.768)"><polygon points="-14.0,-50.4 -2.3,-53.1 5.0,-53.8 12.6,-52.4 20.2,-49.2 27.4,-44.2 34.0,-37.6 39.7,-29.7 44.4,-20.7 47.9,-11.0 49.9,-1.0 50.5,8.9 49.5,18.4 47.2,27.1 43.4,34.6 38.5,40.7 32.5,45.1 25.7,47.7 14.0,50.4" fill="url(#gNeckU)"/></g>
<g transform="translate(652.0,483.6) skewY(15.11)">
<ellipse rx="31.0" ry="40.0" fill="url(#gRim)"/>
<ellipse cx="-3.7" cy="-1.8" rx="26.3" ry="36.0" fill="url(#gRim2)"/>
<ellipse cx="-9.6" cy="2.8" rx="22.0" ry="31.1" fill="#dfe6ef"/>
<ellipse cx="-9.6" cy="2.8" rx="20.8" ry="29.6" fill="url(#gDisc)"/>
<clipPath id="dc6520_4836"><ellipse cx="-9.6" cy="2.8" rx="20.8" ry="29.6"/></clipPath>
<g clip-path="url(#dc6520_4836)"><path d="M-31.0,4.8 C-23.2,4.0 -17.1,12.8 -10.8,15.2 C-6.2,16.0 -3.7,12.8 0.0,18.4 C3.1,20.8 7.8,20.0 12.4,22.4 L11.2,28.8 C4.6,36.0 -4.6,32.0 -10.8,28.0 C-18.6,24.0 -26.3,22.0 -31.0,14.4 Z" fill="#5c6672" opacity="0.92" filter="url(#b1)"/></g>
</g>
</g>
<g id="cansBlue" clip-path="url(#cpBox)">
<g transform="translate(785.3,797.6) scale(1.010)"><polygon points="-11.6,-50.6 77.5,-71.1 83.9,-71.6 90.4,-70.0 96.9,-66.6 103.1,-61.4 108.8,-54.6 113.7,-46.5 117.7,-37.5 120.5,-27.7 122.2,-17.7 122.5,-7.8 121.6,1.6 119.5,10.2 116.2,17.6 111.8,23.5 106.6,27.7 100.7,30.1 11.6,50.6" fill="url(#gBlueBodyU)"/></g>
<text transform="translate(836.3,783.5) rotate(-86)" text-anchor="middle" font-size="20" fill="#f2f6ff" style="font-weight:normal">pepsi</text>
<g transform="translate(830.3,815.3) rotate(20)"><ellipse rx="6.5" ry="8.5" fill="#f2f6ff"/><path d="M-5.8,-3 A6.3,8.3 0 0 1 5.8,-3 Q0,1 -5.8,-3Z" fill="#d8343a"/><path d="M-5.8,3.5 A6.3,8.3 0 0 0 5.8,3.5 Q0,7 -5.8,3.5Z" fill="#1746b8"/></g>
<g transform="translate(780.0,698.5) scale(0.930)"><polygon points="-13.1,-50.6 83.7,-72.9 90.5,-73.4 97.6,-72.0 104.6,-68.7 111.3,-63.5 117.4,-56.8 122.8,-48.8 127.2,-39.7 130.3,-30.0 132.2,-20.0 132.8,-10.0 131.9,-0.5 129.7,8.1 126.3,15.6 121.7,21.6 116.1,25.9 109.8,28.4 13.1,50.6" fill="url(#gBlueBodyU)"/></g>
<text transform="translate(831.0,684.4) rotate(-86)" text-anchor="middle" font-size="20" fill="#f2f6ff" style="font-weight:normal">pepsi</text>
<g transform="translate(825.0,714.0) rotate(20)"><ellipse rx="6.5" ry="8.5" fill="#f2f6ff"/><path d="M-5.8,-3 A6.3,8.3 0 0 1 5.8,-3 Q0,1 -5.8,-3Z" fill="#d8343a"/><path d="M-5.8,3.5 A6.3,8.3 0 0 0 5.8,3.5 Q0,7 -5.8,3.5Z" fill="#1746b8"/></g>
<g transform="translate(777.0,602.0) scale(0.970)"><polygon points="-11.7,-50.5 81.1,-71.8 87.6,-72.3 94.3,-70.8 101.0,-67.4 107.3,-62.3 113.1,-55.6 118.0,-47.5 122.1,-38.5 125.0,-28.7 126.6,-18.7 127.0,-8.8 126.0,0.6 123.8,9.1 120.4,16.5 115.9,22.5 110.5,26.7 104.5,29.2 11.7,50.5" fill="url(#gBlueBodyU)"/></g>
<text transform="translate(828.0,587.9) rotate(-86)" text-anchor="middle" font-size="20" fill="#f2f6ff" style="font-weight:normal">pepsi</text>
<g transform="translate(822.0,618.6) rotate(20)"><ellipse rx="6.5" ry="8.5" fill="#f2f6ff"/><path d="M-5.8,-3 A6.3,8.3 0 0 1 5.8,-3 Q0,1 -5.8,-3Z" fill="#d8343a"/><path d="M-5.8,3.5 A6.3,8.3 0 0 0 5.8,3.5 Q0,7 -5.8,3.5Z" fill="#1746b8"/></g>
<g transform="translate(776.5,512.0) scale(0.920)"><polygon points="-12.7,-50.6 85.1,-73.1 91.9,-73.6 98.9,-72.2 105.9,-68.8 112.5,-63.7 118.6,-57.0 123.9,-49.0 128.2,-39.9 131.4,-30.2 133.2,-20.2 133.7,-10.3 132.8,-0.8 130.5,7.8 127.1,15.3 122.4,21.3 116.9,25.6 110.6,28.1 12.7,50.6" fill="url(#gBlueBodyU)"/></g>
<text transform="translate(827.5,497.9) rotate(-86)" text-anchor="middle" font-size="20" fill="#f2f6ff" style="font-weight:normal">pepsi</text>
<g transform="translate(821.5,527.2) rotate(20)"><ellipse rx="6.5" ry="8.5" fill="#f2f6ff"/><path d="M-5.8,-3 A6.3,8.3 0 0 1 5.8,-3 Q0,1 -5.8,-3Z" fill="#d8343a"/><path d="M-5.8,3.5 A6.3,8.3 0 0 0 5.8,3.5 Q0,7 -5.8,3.5Z" fill="#1746b8"/></g>
<g transform="translate(776.5,512.0) scale(0.883)"><polygon points="-12.7,-50.6 -2.6,-52.9 4.2,-53.4 11.2,-52.0 18.2,-48.7 24.9,-43.5 31.0,-36.8 36.3,-28.8 40.6,-19.8 43.7,-10.1 45.6,-0.0 46.0,9.9 45.1,19.3 42.9,28.0 39.4,35.4 34.8,41.4 29.2,45.7 22.9,48.2 12.7,50.6" fill="url(#gNeckU)"/></g>
<g transform="translate(776.5,512.0) skewY(16.70)">
<ellipse rx="33.0" ry="46.0" fill="url(#gRim)"/>
<ellipse cx="-4.0" cy="-2.1" rx="28.1" ry="41.4" fill="url(#gRim2)"/>
<ellipse cx="-10.2" cy="3.2" rx="23.3" ry="35.5" fill="#dfe6ef"/>
<ellipse cx="-10.2" cy="3.2" rx="22.1" ry="34.0" fill="url(#gDisc)"/>
<clipPath id="dc7765_5120"><ellipse cx="-10.2" cy="3.2" rx="22.1" ry="34.0"/></clipPath>
<g clip-path="url(#dc7765_5120)"><path d="M-33.0,5.5 C-24.8,4.6 -18.2,14.7 -11.5,17.5 C-6.6,18.4 -4.0,14.7 0.0,21.2 C3.3,23.9 8.2,23.0 13.2,25.8 L11.9,33.1 C5.0,41.4 -5.0,36.8 -11.5,32.2 C-19.8,27.6 -28.1,25.3 -33.0,16.6 Z" fill="#5c6672" opacity="0.92" filter="url(#b1)"/></g>
</g>
<g transform="translate(777.0,602.0) scale(0.931)"><polygon points="-11.7,-50.5 -2.0,-52.7 4.5,-53.2 11.2,-51.7 17.8,-48.3 24.2,-43.2 29.9,-36.4 34.9,-28.4 38.9,-19.3 41.8,-9.6 43.5,0.4 43.9,10.3 42.9,19.7 40.7,28.3 37.2,35.7 32.8,41.6 27.4,45.9 21.3,48.3 11.7,50.5" fill="url(#gNeckU)"/></g>
<g transform="translate(777.0,602.0) skewY(16.70)">
<ellipse rx="33.2" ry="48.5" fill="url(#gRim)"/>
<ellipse cx="-4.0" cy="-2.2" rx="28.2" ry="43.6" fill="url(#gRim2)"/>
<ellipse cx="-10.3" cy="3.4" rx="23.4" ry="37.4" fill="#dfe6ef"/>
<ellipse cx="-10.3" cy="3.4" rx="22.2" ry="35.9" fill="url(#gDisc)"/>
<clipPath id="dc7770_6020"><ellipse cx="-10.3" cy="3.4" rx="22.2" ry="35.9"/></clipPath>
<g clip-path="url(#dc7770_6020)"><path d="M-33.2,5.8 C-24.9,4.9 -18.3,15.5 -11.6,18.4 C-6.6,19.4 -4.0,15.5 0.0,22.3 C3.3,25.2 8.3,24.2 13.3,27.2 L12.0,34.9 C5.0,43.6 -5.0,38.8 -11.6,33.9 C-19.9,29.1 -28.2,26.7 -33.2,17.5 Z" fill="#5c6672" opacity="0.92" filter="url(#b1)"/></g>
</g>
<g transform="translate(780.0,698.5) scale(0.893)"><polygon points="-13.1,-50.6 -3.0,-53.0 3.8,-53.5 10.9,-52.1 17.9,-48.7 24.6,-43.6 30.7,-36.9 36.1,-28.8 40.5,-19.8 43.7,-10.0 45.6,-0.0 46.1,9.9 45.2,19.4 43.1,28.0 39.6,35.5 35.0,41.5 29.4,45.8 23.1,48.3 13.1,50.6" fill="url(#gNeckU)"/></g>
<g transform="translate(780.0,698.5) skewY(17.22)">
<ellipse rx="33.5" ry="46.5" fill="url(#gRim)"/>
<ellipse cx="-4.0" cy="-2.1" rx="28.5" ry="41.9" fill="url(#gRim2)"/>
<ellipse cx="-10.4" cy="3.3" rx="23.6" ry="35.9" fill="#dfe6ef"/>
<ellipse cx="-10.4" cy="3.3" rx="22.4" ry="34.4" fill="url(#gDisc)"/>
<clipPath id="dc7800_6985"><ellipse cx="-10.4" cy="3.3" rx="22.4" ry="34.4"/></clipPath>
<g clip-path="url(#dc7800_6985)"><path d="M-33.5,5.6 C-25.1,4.7 -18.4,14.9 -11.7,17.7 C-6.7,18.6 -4.0,14.9 0.0,21.4 C3.4,24.2 8.4,23.2 13.4,26.0 L12.1,33.5 C5.0,41.9 -5.0,37.2 -11.7,32.5 C-20.1,27.9 -28.5,25.6 -33.5,16.7 Z" fill="#5c6672" opacity="0.92" filter="url(#b1)"/></g>
</g>
<g transform="translate(785.3,797.6) scale(0.970)"><polygon points="-11.6,-50.6 -2.3,-52.8 4.1,-53.2 10.6,-51.7 17.1,-48.2 23.3,-43.0 29.0,-36.3 33.9,-28.2 37.8,-19.1 40.7,-9.4 42.3,0.7 42.7,10.6 41.8,20.0 39.7,28.6 36.3,35.9 32.0,41.9 26.7,46.1 20.8,48.5 11.6,50.6" fill="url(#gNeckU)"/></g>
<g transform="translate(785.3,797.6) skewY(17.74)">
<ellipse rx="33.8" ry="50.5" fill="url(#gRim)"/>
<ellipse cx="-4.1" cy="-2.3" rx="28.7" ry="45.5" fill="url(#gRim2)"/>
<ellipse cx="-10.5" cy="3.5" rx="23.8" ry="38.9" fill="#dfe6ef"/>
<ellipse cx="-10.5" cy="3.5" rx="22.6" ry="37.4" fill="url(#gDisc)"/>
<clipPath id="dc7853_7976"><ellipse cx="-10.5" cy="3.5" rx="22.6" ry="37.4"/></clipPath>
<g clip-path="url(#dc7853_7976)"><path d="M-33.8,6.1 C-25.3,5.1 -18.6,16.2 -11.8,19.2 C-6.8,20.2 -4.1,16.2 0.0,23.2 C3.4,26.3 8.4,25.2 13.5,28.3 L12.2,36.4 C5.1,45.5 -5.1,40.4 -11.8,35.3 C-20.3,30.3 -28.7,27.8 -33.8,18.2 Z" fill="#5c6672" opacity="0.92" filter="url(#b1)"/></g>
</g>
<g transform="translate(860.6,826.4) scale(0.990)"><polygon points="-11.8,-50.6 84.2,-72.7 90.6,-73.2 97.2,-71.6 103.8,-68.2 110.0,-63.0 115.8,-56.3 120.7,-48.2 124.8,-39.1 127.7,-29.4 129.4,-19.3 129.8,-9.4 128.9,-0.0 126.7,8.6 123.4,16.0 119.0,21.9 113.7,26.2 107.8,28.6 11.8,50.6" fill="url(#gBlueBodyU)"/></g>
<text transform="translate(911.6,812.3) rotate(-86)" text-anchor="middle" font-size="20" fill="#f2f6ff" style="font-weight:normal">pepsi</text>
<g transform="translate(905.6,843.5) rotate(20)"><ellipse rx="6.5" ry="8.5" fill="#f2f6ff"/><path d="M-5.8,-3 A6.3,8.3 0 0 1 5.8,-3 Q0,1 -5.8,-3Z" fill="#d8343a"/><path d="M-5.8,3.5 A6.3,8.3 0 0 0 5.8,3.5 Q0,7 -5.8,3.5Z" fill="#1746b8"/></g>
<g transform="translate(856.0,727.3) scale(0.980)"><polygon points="-11.5,-50.6 80.3,-71.7 86.7,-72.1 93.3,-70.6 99.8,-67.2 106.1,-62.0 111.8,-55.3 116.7,-47.2 120.6,-38.1 123.5,-28.4 125.1,-18.4 125.5,-8.5 124.5,0.9 122.4,9.5 119.0,16.9 114.6,22.8 109.3,27.0 103.3,29.4 11.5,50.6" fill="url(#gBlueBodyU)"/></g>
<text transform="translate(907.0,713.2) rotate(-86)" text-anchor="middle" font-size="20" fill="#f2f6ff" style="font-weight:normal">pepsi</text>
<g transform="translate(901.0,744.1) rotate(20)"><ellipse rx="6.5" ry="8.5" fill="#f2f6ff"/><path d="M-5.8,-3 A6.3,8.3 0 0 1 5.8,-3 Q0,1 -5.8,-3Z" fill="#d8343a"/><path d="M-5.8,3.5 A6.3,8.3 0 0 0 5.8,3.5 Q0,7 -5.8,3.5Z" fill="#1746b8"/></g>
<g transform="translate(851.0,626.0) scale(0.980)"><polygon points="-11.6,-50.5 80.3,-71.6 86.7,-72.1 93.4,-70.6 100.0,-67.2 106.3,-62.0 112.1,-55.3 117.0,-47.3 121.0,-38.2 123.9,-28.5 125.5,-18.5 125.9,-8.6 124.9,0.8 122.7,9.4 119.3,16.8 114.8,22.7 109.4,27.0 103.4,29.4 11.6,50.5" fill="url(#gBlueBodyU)"/></g>
<text transform="translate(902.0,611.9) rotate(-86)" text-anchor="middle" font-size="20" fill="#f2f6ff" style="font-weight:normal">pepsi</text>
<g transform="translate(896.0,642.8) rotate(20)"><ellipse rx="6.5" ry="8.5" fill="#f2f6ff"/><path d="M-5.8,-3 A6.3,8.3 0 0 1 5.8,-3 Q0,1 -5.8,-3Z" fill="#d8343a"/><path d="M-5.8,3.5 A6.3,8.3 0 0 0 5.8,3.5 Q0,7 -5.8,3.5Z" fill="#1746b8"/></g>
<g transform="translate(849.0,536.0) scale(0.940)"><polygon points="-12.2,-50.5 83.5,-72.6 90.2,-73.1 97.0,-71.6 103.8,-68.2 110.4,-63.1 116.3,-56.4 121.5,-48.4 125.6,-39.3 128.6,-29.6 130.4,-19.6 130.8,-9.7 129.9,-0.2 127.7,8.4 124.2,15.8 119.6,21.8 114.2,26.1 108.0,28.5 12.2,50.5" fill="url(#gBlueBodyU)"/></g>
<text transform="translate(900.0,521.9) rotate(-86)" text-anchor="middle" font-size="20" fill="#f2f6ff" style="font-weight:normal">pepsi</text>
<g transform="translate(894.0,551.7) rotate(20)"><ellipse rx="6.5" ry="8.5" fill="#f2f6ff"/><path d="M-5.8,-3 A6.3,8.3 0 0 1 5.8,-3 Q0,1 -5.8,-3Z" fill="#d8343a"/><path d="M-5.8,3.5 A6.3,8.3 0 0 0 5.8,3.5 Q0,7 -5.8,3.5Z" fill="#1746b8"/></g>
<g transform="translate(849.0,536.0) scale(0.902)"><polygon points="-12.2,-50.5 -2.3,-52.8 4.4,-53.3 11.3,-51.9 18.1,-48.5 24.6,-43.4 30.5,-36.7 35.7,-28.6 39.9,-19.6 42.9,-9.9 44.6,0.1 45.1,10.1 44.1,19.5 41.9,28.1 38.4,35.5 33.9,41.5 28.4,45.8 22.2,48.2 12.2,50.5" fill="url(#gNeckU)"/></g>
<g transform="translate(849.0,536.0) skewY(16.70)">
<ellipse rx="33.0" ry="47.0" fill="url(#gRim)"/>
<ellipse cx="-4.0" cy="-2.1" rx="28.1" ry="42.3" fill="url(#gRim2)"/>
<ellipse cx="-10.2" cy="3.3" rx="23.3" ry="36.3" fill="#dfe6ef"/>
<ellipse cx="-10.2" cy="3.3" rx="22.1" ry="34.8" fill="url(#gDisc)"/>
<clipPath id="dc8490_5360"><ellipse cx="-10.2" cy="3.3" rx="22.1" ry="34.8"/></clipPath>
<g clip-path="url(#dc8490_5360)"><path d="M-33.0,5.6 C-24.8,4.7 -18.2,15.0 -11.5,17.9 C-6.6,18.8 -4.0,15.0 0.0,21.6 C3.3,24.4 8.2,23.5 13.2,26.3 L11.9,33.8 C5.0,42.3 -5.0,37.6 -11.5,32.9 C-19.8,28.2 -28.1,25.9 -33.0,16.9 Z" fill="#5c6672" opacity="0.92" filter="url(#b1)"/></g>
</g>
<g transform="translate(851.0,626.0) scale(0.941)"><polygon points="-11.6,-50.5 -2.0,-52.7 4.5,-53.2 11.1,-51.7 17.7,-48.3 24.0,-43.1 29.8,-36.4 34.7,-28.3 38.7,-19.3 41.6,-9.6 43.3,0.4 43.6,10.3 42.7,19.7 40.4,28.3 37.0,35.7 32.5,41.6 27.2,45.9 21.1,48.3 11.6,50.5" fill="url(#gNeckU)"/></g>
<g transform="translate(851.0,626.0) skewY(16.70)">
<ellipse rx="33.4" ry="49.0" fill="url(#gRim)"/>
<ellipse cx="-4.0" cy="-2.2" rx="28.4" ry="44.1" fill="url(#gRim2)"/>
<ellipse cx="-10.4" cy="3.4" rx="23.6" ry="37.8" fill="#dfe6ef"/>
<ellipse cx="-10.4" cy="3.4" rx="22.4" ry="36.3" fill="url(#gDisc)"/>
<clipPath id="dc8510_6260"><ellipse cx="-10.4" cy="3.4" rx="22.4" ry="36.3"/></clipPath>
<g clip-path="url(#dc8510_6260)"><path d="M-33.4,5.9 C-25.0,4.9 -18.4,15.7 -11.7,18.6 C-6.7,19.6 -4.0,15.7 0.0,22.5 C3.3,25.5 8.3,24.5 13.4,27.4 L12.0,35.3 C5.0,44.1 -5.0,39.2 -11.7,34.3 C-20.0,29.4 -28.4,27.0 -33.4,17.6 Z" fill="#5c6672" opacity="0.92" filter="url(#b1)"/></g>
</g>
<g transform="translate(856.0,727.3) scale(0.941)"><polygon points="-11.5,-50.6 -1.9,-52.8 4.5,-53.2 11.0,-51.7 17.6,-48.3 23.8,-43.1 29.5,-36.3 34.4,-28.3 38.4,-19.2 41.2,-9.5 42.8,0.5 43.2,10.4 42.3,19.8 40.1,28.4 36.7,35.8 32.3,41.7 27.0,46.0 21.1,48.4 11.5,50.6" fill="url(#gNeckU)"/></g>
<g transform="translate(856.0,727.3) skewY(17.22)">
<ellipse rx="33.0" ry="49.0" fill="url(#gRim)"/>
<ellipse cx="-4.0" cy="-2.2" rx="28.1" ry="44.1" fill="url(#gRim2)"/>
<ellipse cx="-10.2" cy="3.4" rx="23.3" ry="37.8" fill="#dfe6ef"/>
<ellipse cx="-10.2" cy="3.4" rx="22.1" ry="36.3" fill="url(#gDisc)"/>
<clipPath id="dc8560_7273"><ellipse cx="-10.2" cy="3.4" rx="22.1" ry="36.3"/></clipPath>
<g clip-path="url(#dc8560_7273)"><path d="M-33.0,5.9 C-24.8,4.9 -18.2,15.7 -11.5,18.6 C-6.6,19.6 -4.0,15.7 0.0,22.5 C3.3,25.5 8.2,24.5 13.2,27.4 L11.9,35.3 C5.0,44.1 -5.0,39.2 -11.5,34.3 C-19.8,29.4 -28.1,27.0 -33.0,17.6 Z" fill="#5c6672" opacity="0.92" filter="url(#b1)"/></g>
</g>
<g transform="translate(860.6,826.4) scale(0.950)"><polygon points="-11.8,-50.6 -2.3,-52.8 4.1,-53.3 10.7,-51.8 17.3,-48.3 23.5,-43.1 29.3,-36.4 34.3,-28.3 38.3,-19.2 41.2,-9.5 42.9,0.5 43.3,10.5 42.4,19.9 40.2,28.5 36.9,35.9 32.5,41.8 27.2,46.1 21.3,48.5 11.8,50.6" fill="url(#gNeckU)"/></g>
<g transform="translate(860.6,826.4) skewY(17.74)">
<ellipse rx="33.5" ry="49.5" fill="url(#gRim)"/>
<ellipse cx="-4.0" cy="-2.2" rx="28.5" ry="44.6" fill="url(#gRim2)"/>
<ellipse cx="-10.4" cy="3.5" rx="23.6" ry="38.1" fill="#dfe6ef"/>
<ellipse cx="-10.4" cy="3.5" rx="22.4" ry="36.6" fill="url(#gDisc)"/>
<clipPath id="dc8606_8264"><ellipse cx="-10.4" cy="3.5" rx="22.4" ry="36.6"/></clipPath>
<g clip-path="url(#dc8606_8264)"><path d="M-33.5,5.9 C-25.1,5.0 -18.4,15.8 -11.7,18.8 C-6.7,19.8 -4.0,15.8 0.0,22.8 C3.4,25.7 8.4,24.8 13.4,27.7 L12.1,35.6 C5.0,44.6 -5.0,39.6 -11.7,34.6 C-20.1,29.7 -28.5,27.2 -33.5,17.8 Z" fill="#5c6672" opacity="0.92" filter="url(#b1)"/></g>
</g>
<g transform="translate(943.5,859.6) scale(1.060)"><polygon points="-10.4,-50.5 79.2,-71.2 85.3,-71.5 91.5,-69.9 97.6,-66.5 103.4,-61.2 108.7,-54.4 113.2,-46.3 116.9,-37.2 119.5,-27.5 120.9,-17.5 121.2,-7.6 120.2,1.8 118.1,10.3 114.8,17.6 110.6,23.5 105.6,27.6 100.0,29.9 10.4,50.5" fill="url(#gBlueBodyU)"/></g>
<text transform="translate(994.5,845.5) rotate(-86)" text-anchor="middle" font-size="20" fill="#f2f6ff" style="font-weight:normal">pepsi</text>
<g transform="translate(988.5,878.6) rotate(20)"><ellipse rx="6.5" ry="8.5" fill="#f2f6ff"/><path d="M-5.8,-3 A6.3,8.3 0 0 1 5.8,-3 Q0,1 -5.8,-3Z" fill="#d8343a"/><path d="M-5.8,3.5 A6.3,8.3 0 0 0 5.8,3.5 Q0,7 -5.8,3.5Z" fill="#1746b8"/></g>
<g transform="translate(939.4,753.0) scale(1.040)"><polygon points="-10.5,-50.5 80.9,-71.5 87.0,-71.9 93.3,-70.3 99.5,-66.9 105.3,-61.6 110.7,-54.9 115.3,-46.8 119.0,-37.7 121.6,-28.0 123.1,-18.0 123.3,-8.1 122.3,1.3 120.1,9.8 116.9,17.1 112.6,23.0 107.5,27.2 101.8,29.5 10.5,50.5" fill="url(#gBlueBodyU)"/></g>
<text transform="translate(990.4,738.9) rotate(-86)" text-anchor="middle" font-size="20" fill="#f2f6ff" style="font-weight:normal">pepsi</text>
<g transform="translate(984.4,771.5) rotate(20)"><ellipse rx="6.5" ry="8.5" fill="#f2f6ff"/><path d="M-5.8,-3 A6.3,8.3 0 0 1 5.8,-3 Q0,1 -5.8,-3Z" fill="#d8343a"/><path d="M-5.8,3.5 A6.3,8.3 0 0 0 5.8,3.5 Q0,7 -5.8,3.5Z" fill="#1746b8"/></g>
<g transform="translate(936.0,650.0) scale(1.000)"><polygon points="-10.9,-50.5 84.1,-72.3 90.4,-72.7 96.9,-71.2 103.2,-67.8 109.3,-62.6 114.8,-55.8 119.6,-47.8 123.4,-38.7 126.1,-29.0 127.7,-19.0 127.9,-9.2 127.0,0.2 124.7,8.8 121.4,16.1 117.0,22.0 111.8,26.2 105.9,28.6 10.9,50.5" fill="url(#gBlueBodyU)"/></g>
<text transform="translate(987.0,635.9) rotate(-86)" text-anchor="middle" font-size="20" fill="#f2f6ff" style="font-weight:normal">pepsi</text>
<g transform="translate(981.0,667.4) rotate(20)"><ellipse rx="6.5" ry="8.5" fill="#f2f6ff"/><path d="M-5.8,-3 A6.3,8.3 0 0 1 5.8,-3 Q0,1 -5.8,-3Z" fill="#d8343a"/><path d="M-5.8,3.5 A6.3,8.3 0 0 0 5.8,3.5 Q0,7 -5.8,3.5Z" fill="#1746b8"/></g>
<g transform="translate(928.0,558.0) scale(0.970)"><polygon points="-11.5,-50.5 86.4,-73.0 92.9,-73.5 99.5,-72.0 106.1,-68.6 112.4,-63.4 118.1,-56.7 123.1,-48.7 127.1,-39.6 129.9,-29.9 131.6,-19.9 131.9,-10.0 131.0,-0.6 128.7,8.0 125.3,15.4 120.8,21.3 115.5,25.6 109.5,28.0 11.5,50.5" fill="url(#gBlueBodyU)"/></g>
<text transform="translate(979.0,543.9) rotate(-86)" text-anchor="middle" font-size="20" fill="#f2f6ff" style="font-weight:normal">pepsi</text>
<g transform="translate(973.0,574.6) rotate(20)"><ellipse rx="6.5" ry="8.5" fill="#f2f6ff"/><path d="M-5.8,-3 A6.3,8.3 0 0 1 5.8,-3 Q0,1 -5.8,-3Z" fill="#d8343a"/><path d="M-5.8,3.5 A6.3,8.3 0 0 0 5.8,3.5 Q0,7 -5.8,3.5Z" fill="#1746b8"/></g>
<g transform="translate(928.0,558.0) scale(0.931)"><polygon points="-11.5,-50.5 -1.9,-52.7 4.6,-53.2 11.2,-51.7 17.8,-48.3 24.1,-43.1 29.9,-36.4 34.8,-28.3 38.8,-19.3 41.7,-9.6 43.3,0.4 43.6,10.3 42.7,19.7 40.5,28.3 37.0,35.7 32.6,41.6 27.2,45.9 21.2,48.3 11.5,50.5" fill="url(#gNeckU)"/></g>
<g transform="translate(928.0,558.0) skewY(16.70)">
<ellipse rx="33.0" ry="48.5" fill="url(#gRim)"/>
<ellipse cx="-4.0" cy="-2.2" rx="28.1" ry="43.6" fill="url(#gRim2)"/>
<ellipse cx="-10.2" cy="3.4" rx="23.3" ry="37.4" fill="#dfe6ef"/>
<ellipse cx="-10.2" cy="3.4" rx="22.1" ry="35.9" fill="url(#gDisc)"/>
<clipPath id="dc9280_5580"><ellipse cx="-10.2" cy="3.4" rx="22.1" ry="35.9"/></clipPath>
<g clip-path="url(#dc9280_5580)"><path d="M-33.0,5.8 C-24.8,4.9 -18.2,15.5 -11.5,18.4 C-6.6,19.4 -4.0,15.5 0.0,22.3 C3.3,25.2 8.2,24.2 13.2,27.2 L11.9,34.9 C5.0,43.6 -5.0,38.8 -11.5,33.9 C-19.8,29.1 -28.1,26.7 -33.0,17.5 Z" fill="#5c6672" opacity="0.92" filter="url(#b1)"/></g>
</g>
<g transform="translate(936.0,650.0) scale(0.960)"><polygon points="-10.9,-50.5 -1.5,-52.6 4.8,-53.0 11.2,-51.5 17.6,-48.1 23.7,-42.9 29.2,-36.1 34.0,-28.1 37.8,-19.0 40.5,-9.3 42.1,0.7 42.3,10.5 41.3,19.9 39.1,28.5 35.7,35.8 31.4,41.7 26.1,45.9 20.3,48.3 10.9,50.5" fill="url(#gNeckU)"/></g>
<g transform="translate(936.0,650.0) skewY(16.70)">
<ellipse rx="33.0" ry="50.0" fill="url(#gRim)"/>
<ellipse cx="-4.0" cy="-2.2" rx="28.1" ry="45.0" fill="url(#gRim2)"/>
<ellipse cx="-10.2" cy="3.5" rx="23.3" ry="38.5" fill="#dfe6ef"/>
<ellipse cx="-10.2" cy="3.5" rx="22.1" ry="37.0" fill="url(#gDisc)"/>
<clipPath id="dc9360_6500"><ellipse cx="-10.2" cy="3.5" rx="22.1" ry="37.0"/></clipPath>
<g clip-path="url(#dc9360_6500)"><path d="M-33.0,6.0 C-24.8,5.0 -18.2,16.0 -11.5,19.0 C-6.6,20.0 -4.0,16.0 0.0,23.0 C3.3,26.0 8.2,25.0 13.2,28.0 L11.9,36.0 C5.0,45.0 -5.0,40.0 -11.5,35.0 C-19.8,30.0 -28.1,27.5 -33.0,18.0 Z" fill="#5c6672" opacity="0.92" filter="url(#b1)"/></g>
</g>
<g transform="translate(939.4,753.0) scale(0.998)"><polygon points="-10.5,-50.5 -1.5,-52.6 4.7,-53.0 10.9,-51.4 17.1,-47.9 23.0,-42.7 28.4,-35.9 33.0,-27.8 36.7,-18.8 39.3,-9.0 40.7,1.0 41.0,10.8 40.0,20.2 37.8,28.7 34.5,36.0 30.3,41.9 25.2,46.1 19.5,48.4 10.5,50.5" fill="url(#gNeckU)"/></g>
<g transform="translate(939.4,753.0) skewY(17.22)">
<ellipse rx="33.3" ry="52.0" fill="url(#gRim)"/>
<ellipse cx="-4.0" cy="-2.3" rx="28.3" ry="46.8" fill="url(#gRim2)"/>
<ellipse cx="-10.3" cy="3.6" rx="23.5" ry="40.0" fill="#dfe6ef"/>
<ellipse cx="-10.3" cy="3.6" rx="22.3" ry="38.5" fill="url(#gDisc)"/>
<clipPath id="dc9394_7530"><ellipse cx="-10.3" cy="3.6" rx="22.3" ry="38.5"/></clipPath>
<g clip-path="url(#dc9394_7530)"><path d="M-33.3,6.2 C-25.0,5.2 -18.3,16.6 -11.7,19.8 C-6.7,20.8 -4.0,16.6 0.0,23.9 C3.3,27.0 8.3,26.0 13.3,29.1 L12.0,37.4 C5.0,46.8 -5.0,41.6 -11.7,36.4 C-20.0,31.2 -28.3,28.6 -33.3,18.7 Z" fill="#5c6672" opacity="0.92" filter="url(#b1)"/></g>
</g>
<g transform="translate(943.5,859.6) scale(1.018)"><polygon points="-10.4,-50.5 -1.5,-52.6 4.5,-53.0 10.7,-51.4 16.8,-47.9 22.6,-42.6 27.9,-35.8 32.5,-27.7 36.1,-18.6 38.7,-8.9 40.1,1.1 40.4,11.0 39.4,20.3 37.3,28.9 34.1,36.2 29.9,42.0 24.8,46.2 19.2,48.5 10.4,50.5" fill="url(#gNeckU)"/></g>
<g transform="translate(943.5,859.6) skewY(17.74)">
<ellipse rx="33.5" ry="53.0" fill="url(#gRim)"/>
<ellipse cx="-4.0" cy="-2.4" rx="28.5" ry="47.7" fill="url(#gRim2)"/>
<ellipse cx="-10.4" cy="3.7" rx="23.6" ry="40.7" fill="#dfe6ef"/>
<ellipse cx="-10.4" cy="3.7" rx="22.4" ry="39.2" fill="url(#gDisc)"/>
<clipPath id="dc9435_8596"><ellipse cx="-10.4" cy="3.7" rx="22.4" ry="39.2"/></clipPath>
<g clip-path="url(#dc9435_8596)"><path d="M-33.5,6.4 C-25.1,5.3 -18.4,17.0 -11.7,20.1 C-6.7,21.2 -4.0,17.0 0.0,24.4 C3.4,27.6 8.4,26.5 13.4,29.7 L12.1,38.2 C5.0,47.7 -5.0,42.4 -11.7,37.1 C-20.1,31.8 -28.5,29.2 -33.5,19.1 Z" fill="#5c6672" opacity="0.92" filter="url(#b1)"/></g>
</g>
<g transform="translate(1019.7,893.7) scale(1.120)"><polygon points="-10.8,-50.1 80.2,-80.1 85.9,-81.0 91.7,-79.8 97.5,-76.8 103.1,-72.0 108.2,-65.5 112.7,-57.7 116.3,-48.8 118.9,-39.3 120.5,-29.3 121.0,-19.4 120.3,-9.9 118.4,-1.2 115.6,6.5 111.8,12.7 107.1,17.3 101.9,20.0 10.8,50.1" fill="url(#gBlueBodyU)"/></g>
<text transform="translate(1072.7,874.5) rotate(-86)" text-anchor="middle" font-size="22" fill="#f2f6ff" style="font-weight:normal">pepsi</text>
<g transform="translate(1066.7,909.3) rotate(20)"><ellipse rx="6.5" ry="8.5" fill="#f2f6ff"/><path d="M-5.8,-3 A6.3,8.3 0 0 1 5.8,-3 Q0,1 -5.8,-3Z" fill="#d8343a"/><path d="M-5.8,3.5 A6.3,8.3 0 0 0 5.8,3.5 Q0,7 -5.8,3.5Z" fill="#1746b8"/></g>
<g transform="matrix(1 -0.33 0 1 1077.7 874.6)">
<g fill="none" stroke="#e6eeff" stroke-width="3" opacity="0.9" stroke-linejoin="round">
<path d="M1,-36 h22 v14 h-10 v11 h22"/>
<path d="M4,5 h9 v16 h9 v-16 h9 v16 h9 v-16 h9 v16 h9"/>
<path d="M4,36 q5,-12 10,0 t10,0 t10,0 t10,0 t10,0"/>
<path d="M30,-43 q9,16 22,5"/>
<path d="M40,-30 v16 h14 v-12"/>
</g>
<path d="M0,1 l30,-12 l6,-13 l4,16 l-37,17 Z" fill="#f2f6ff" opacity="0.95"/>
<ellipse cx="36" cy="-7" rx="7" ry="15" fill="#e8393d"/>
</g>
<g transform="translate(1020.0,789.3) scale(1.100)"><polygon points="-10.5,-50.2 82.2,-78.0 88.0,-78.7 93.9,-77.4 99.8,-74.3 105.4,-69.3 110.5,-62.8 114.9,-54.9 118.5,-46.0 121.1,-36.3 122.6,-26.4 123.0,-16.5 122.2,-7.0 120.2,1.6 117.2,9.2 113.3,15.3 108.6,19.7 103.2,22.3 10.5,50.2" fill="url(#gBlueBodyU)"/></g>
<text transform="translate(1073.0,771.5) rotate(-86)" text-anchor="middle" font-size="22" fill="#f2f6ff" style="font-weight:normal">pepsi</text>
<g transform="translate(1067.0,805.8) rotate(20)"><ellipse rx="6.5" ry="8.5" fill="#f2f6ff"/><path d="M-5.8,-3 A6.3,8.3 0 0 1 5.8,-3 Q0,1 -5.8,-3Z" fill="#d8343a"/><path d="M-5.8,3.5 A6.3,8.3 0 0 0 5.8,3.5 Q0,7 -5.8,3.5Z" fill="#1746b8"/></g>
<g transform="matrix(1 -0.3 0 1 1078.0 771.9)">
<g fill="none" stroke="#e6eeff" stroke-width="3" opacity="0.9" stroke-linejoin="round">
<path d="M1,-35 h22 v14 h-10 v11 h22"/>
<path d="M4,5 h9 v16 h9 v-16 h9 v16 h9 v-16 h9 v16 h9"/>
<path d="M4,35 q5,-12 10,0 t10,0 t10,0 t10,0 t10,0"/>
<path d="M30,-43 q9,16 22,5"/>
<path d="M40,-29 v16 h14 v-12"/>
</g>
<path d="M0,1 l30,-12 l6,-13 l4,16 l-37,17 Z" fill="#f2f6ff" opacity="0.95"/>
<ellipse cx="36" cy="-6" rx="7" ry="14" fill="#e8393d"/>
</g>
<g transform="translate(1018.0,682.6) scale(1.090)"><polygon points="-9.9,-50.2 83.7,-75.5 89.5,-76.0 95.4,-74.6 101.3,-71.3 106.8,-66.2 111.9,-59.6 116.2,-51.6 119.7,-42.6 122.2,-33.0 123.6,-23.0 123.8,-13.2 122.9,-3.8 120.8,4.8 117.7,12.2 113.7,18.2 108.8,22.5 103.5,25.0 9.9,50.2" fill="url(#gBlueBodyU)"/></g>
<text transform="translate(1071.0,666.2) rotate(-86)" text-anchor="middle" font-size="22" fill="#f2f6ff" style="font-weight:normal">pepsi</text>
<g transform="translate(1065.0,700.2) rotate(20)"><ellipse rx="6.5" ry="8.5" fill="#f2f6ff"/><path d="M-5.8,-3 A6.3,8.3 0 0 1 5.8,-3 Q0,1 -5.8,-3Z" fill="#d8343a"/><path d="M-5.8,3.5 A6.3,8.3 0 0 0 5.8,3.5 Q0,7 -5.8,3.5Z" fill="#1746b8"/></g>
<g transform="matrix(1 -0.27 0 1 1076.0 666.9)">
<g fill="none" stroke="#e6eeff" stroke-width="3" opacity="0.9" stroke-linejoin="round">
<path d="M1,-35 h22 v14 h-10 v11 h22"/>
<path d="M4,5 h9 v16 h9 v-16 h9 v16 h9 v-16 h9 v16 h9"/>
<path d="M4,35 q5,-12 10,0 t10,0 t10,0 t10,0 t10,0"/>
<path d="M30,-42 q9,16 22,5"/>
<path d="M40,-29 v16 h14 v-12"/>
</g>
<path d="M0,1 l30,-12 l6,-13 l4,16 l-37,17 Z" fill="#f2f6ff" opacity="0.95"/>
<ellipse cx="36" cy="-6" rx="7" ry="14" fill="#e8393d"/>
</g>
<g transform="translate(1014.0,582.6) scale(1.040)"><polygon points="-10.3,-50.4 87.8,-73.9 93.8,-74.4 100.1,-72.8 106.2,-69.4 112.0,-64.3 117.3,-57.5 121.9,-49.5 125.5,-40.4 128.1,-30.7 129.5,-20.8 129.7,-10.9 128.8,-1.5 126.6,7.0 123.3,14.4 119.1,20.3 114.0,24.5 108.4,26.8 10.3,50.4" fill="url(#gBlueBodyU)"/></g>
<text transform="translate(1067.0,567.6) rotate(-86)" text-anchor="middle" font-size="22" fill="#f2f6ff" style="font-weight:normal">pepsi</text>
<g transform="translate(1061.0,600.2) rotate(20)"><ellipse rx="6.5" ry="8.5" fill="#f2f6ff"/><path d="M-5.8,-3 A6.3,8.3 0 0 1 5.8,-3 Q0,1 -5.8,-3Z" fill="#d8343a"/><path d="M-5.8,3.5 A6.3,8.3 0 0 0 5.8,3.5 Q0,7 -5.8,3.5Z" fill="#1746b8"/></g>
<g transform="matrix(1 -0.24 0 1 1072.0 568.7)">
<g fill="none" stroke="#e6eeff" stroke-width="3" opacity="0.9" stroke-linejoin="round">
<path d="M1,-33 h22 v13 h-10 v10 h22"/>
<path d="M4,5 h9 v15 h9 v-15 h9 v15 h9 v-15 h9 v15 h9"/>
<path d="M4,33 q5,-11 10,0 t10,0 t10,0 t10,0 t10,0"/>
<path d="M30,-40 q9,15 22,5"/>
<path d="M40,-28 v15 h14 v-11"/>
</g>
<path d="M0,1 l30,-11 l6,-12 l4,15 l-37,16 Z" fill="#f2f6ff" opacity="0.95"/>
<ellipse cx="36" cy="-6" rx="7" ry="14" fill="#e8393d"/>
</g>
<g transform="translate(1014.0,582.6) scale(0.998)"><polygon points="-10.3,-50.4 -1.3,-52.5 4.8,-53.0 11.0,-51.5 17.1,-48.1 23.0,-42.9 28.3,-36.1 32.8,-28.1 36.4,-19.1 39.0,-9.4 40.5,0.6 40.7,10.5 39.7,19.8 37.5,28.4 34.2,35.7 30.0,41.6 25.0,45.8 19.3,48.2 10.3,50.4" fill="url(#gNeckU)"/></g>
<g transform="translate(1014.0,582.6) skewY(16.70)">
<ellipse rx="33.0" ry="52.0" fill="url(#gRim)"/>
<ellipse cx="-4.0" cy="-2.3" rx="28.1" ry="46.8" fill="url(#gRim2)"/>
<ellipse cx="-10.2" cy="3.6" rx="23.3" ry="40.0" fill="#dfe6ef"/>
<ellipse cx="-10.2" cy="3.6" rx="22.1" ry="38.5" fill="url(#gDisc)"/>
<clipPath id="dc10140_5826"><ellipse cx="-10.2" cy="3.6" rx="22.1" ry="38.5"/></clipPath>
<g clip-path="url(#dc10140_5826)"><path d="M-33.0,6.2 C-24.8,5.2 -18.2,16.6 -11.5,19.8 C-6.6,20.8 -4.0,16.6 0.0,23.9 C3.3,27.0 8.2,26.0 13.2,29.1 L11.9,37.4 C5.0,46.8 -5.0,41.6 -11.5,36.4 C-19.8,31.2 -28.1,28.6 -33.0,18.7 Z" fill="#5c6672" opacity="0.92" filter="url(#b1)"/></g>
</g>
<g transform="translate(1018.0,682.6) scale(1.046)"><polygon points="-9.9,-50.2 -1.3,-52.5 4.5,-53.1 10.4,-51.7 16.3,-48.4 21.9,-43.3 26.9,-36.7 31.3,-28.7 34.7,-19.7 37.2,-10.0 38.6,-0.1 38.8,9.8 37.9,19.2 35.8,27.7 32.7,35.1 28.7,41.1 23.9,45.4 18.5,47.9 9.9,50.2" fill="url(#gNeckU)"/></g>
<g transform="translate(1018.0,682.6) skewY(16.70)">
<ellipse rx="33.0" ry="54.5" fill="url(#gRim)"/>
<ellipse cx="-4.0" cy="-2.5" rx="28.1" ry="49.1" fill="url(#gRim2)"/>
<ellipse cx="-10.2" cy="3.8" rx="23.3" ry="41.8" fill="#dfe6ef"/>
<ellipse cx="-10.2" cy="3.8" rx="22.1" ry="40.3" fill="url(#gDisc)"/>
<clipPath id="dc10180_6826"><ellipse cx="-10.2" cy="3.8" rx="22.1" ry="40.3"/></clipPath>
<g clip-path="url(#dc10180_6826)"><path d="M-33.0,6.5 C-24.8,5.5 -18.2,17.4 -11.5,20.7 C-6.6,21.8 -4.0,17.4 0.0,25.1 C3.3,28.3 8.2,27.2 13.2,30.5 L11.9,39.2 C5.0,49.1 -5.0,43.6 -11.5,38.1 C-19.8,32.7 -28.1,30.0 -33.0,19.6 Z" fill="#5c6672" opacity="0.92" filter="url(#b1)"/></g>
</g>
<g transform="translate(1020.0,789.3) scale(1.056)"><polygon points="-10.5,-50.2 -2.0,-52.7 3.8,-53.4 9.7,-52.2 15.6,-49.0 21.2,-44.0 26.3,-37.5 30.7,-29.6 34.3,-20.7 36.9,-11.1 38.4,-1.1 38.8,8.8 38.0,18.2 36.0,26.9 33.0,34.4 29.1,40.5 24.3,45.0 19.0,47.6 10.5,50.2" fill="url(#gNeckU)"/></g>
<g transform="translate(1020.0,789.3) skewY(17.22)">
<ellipse rx="33.3" ry="55.0" fill="url(#gRim)"/>
<ellipse cx="-4.0" cy="-2.5" rx="28.3" ry="49.5" fill="url(#gRim2)"/>
<ellipse cx="-10.3" cy="3.9" rx="23.5" ry="42.2" fill="#dfe6ef"/>
<ellipse cx="-10.3" cy="3.9" rx="22.3" ry="40.7" fill="url(#gDisc)"/>
<clipPath id="dc10200_7893"><ellipse cx="-10.3" cy="3.9" rx="22.3" ry="40.7"/></clipPath>
<g clip-path="url(#dc10200_7893)"><path d="M-33.3,6.6 C-25.0,5.5 -18.3,17.6 -11.7,20.9 C-6.7,22.0 -4.0,17.6 0.0,25.3 C3.3,28.6 8.3,27.5 13.3,30.8 L12.0,39.6 C5.0,49.5 -5.0,44.0 -11.7,38.5 C-20.0,33.0 -28.3,30.3 -33.3,19.8 Z" fill="#5c6672" opacity="0.92" filter="url(#b1)"/></g>
</g>
<g transform="translate(1019.7,893.7) scale(1.075)"><polygon points="-10.8,-50.1 -2.5,-52.8 3.2,-53.7 9.0,-52.5 14.8,-49.5 20.4,-44.7 25.5,-38.2 30.0,-30.4 33.6,-21.6 36.2,-12.0 37.8,-2.0 38.3,7.9 37.6,17.4 35.7,26.1 32.9,33.8 29.1,40.0 24.4,44.6 19.2,47.3 10.8,50.1" fill="url(#gNeckU)"/></g>
<g transform="translate(1019.7,893.7) skewY(17.74)">
<ellipse rx="33.5" ry="56.0" fill="url(#gRim)"/>
<ellipse cx="-4.0" cy="-2.5" rx="28.5" ry="50.4" fill="url(#gRim2)"/>
<ellipse cx="-10.4" cy="3.9" rx="23.6" ry="42.9" fill="#dfe6ef"/>
<ellipse cx="-10.4" cy="3.9" rx="22.4" ry="41.4" fill="url(#gDisc)"/>
<clipPath id="dc10197_8937"><ellipse cx="-10.4" cy="3.9" rx="22.4" ry="41.4"/></clipPath>
<g clip-path="url(#dc10197_8937)"><path d="M-33.5,6.7 C-25.1,5.6 -18.4,17.9 -11.7,21.3 C-6.7,22.4 -4.0,17.9 0.0,25.8 C3.4,29.1 8.4,28.0 13.4,31.4 L12.1,40.3 C5.0,50.4 -5.0,44.8 -11.7,39.2 C-20.1,33.6 -28.5,30.8 -33.5,20.2 Z" fill="#5c6672" opacity="0.92" filter="url(#b1)"/></g>
</g>
</g>
<g id="wires" fill="none" stroke="#f6f9ff" stroke-linecap="round" stroke-linejoin="round">
<g stroke-width="4" opacity="0.95">
<path d="M733,505 L735,640 L737,818" stroke-width="1.6"/><path d="M737.5,520 L739.5,640 L741,815" stroke-width="1.6"/>
<path d="M747,560 L749.5,700 L752,828 Q753,842 765,846 L778,850"/>
<path d="M822,528 L825,700 L827,866 Q828,880 840,884 L858,890"/>
<path d="M902,552 L905,760 L907,900 Q908,913 920,917 L940,923"/>
<path d="M981,575 L984,780 L986,928"/>
<path d="M1081,590 L1081,766 L1082,946"/>
<path d="M1148,700 L1150,742 L1151,900 Q1150,914 1138,918 L1122,924"/>
<path d="M1216,690 L1217,716 L1218,868 Q1217,882 1205,886 L1190,892"/>
<path d="M1279,668 L1280,692 L1281,838 Q1280,852 1268,856 L1252,862"/>
</g>
<g stroke-width="5" opacity="0.96">
<path d="M727,675 L960,753 L1040,781 Q1050,784 1062,776 L1081,766 L1290,689 Q1306,682 1300,672 L1296,668"/>
<path d="M728,645 L986,762"/>
</g>
</g>
<g id="glass">
<polygon points="524,402 1059,543 1048,972 990,952 728,848 728,600 524,600" fill="#cfe0ff" opacity="0.10"/>
<polygon points="1059,543 1340,478 1318,828 1075,953 1048,972" fill="#cfe0ff" opacity="0.10"/>
<path d="M1059,543 L1049,946" stroke="#dbe8ff" stroke-width="2.5" opacity="0.8" fill="none"/>
<path d="M1335.5,482 L1315.5,826" stroke="#aab0ba" stroke-width="8" opacity="0.8" fill="none"/>
<path d="M1340,480 L1320,826" stroke="#6d7480" stroke-width="1.2" opacity="0.8" fill="none"/>
<path d="M728,848 L990,952" stroke="#7fb0ff" stroke-width="3" opacity="0.95" fill="none"/>
<path d="M728,826 L981,919" stroke="#dbe7fb" stroke-width="1.5" opacity="0.9" fill="none"/>
<path d="M1082,948 L1294,868" stroke="#5d93ff" stroke-width="3" opacity="0.9" fill="none"/>
<path d="M533,404 L537,560" stroke="#5b93ff" stroke-width="9" opacity="0.9" fill="none" filter="url(#b3)"/>
<path d="M533,404 L536,540" stroke="#e8f1ff" stroke-width="2.5" opacity="0.9" fill="none"/>
<ellipse cx="1190" cy="915" rx="40" ry="8" transform="rotate(-20 1190 915)" fill="#5fb0ff" filter="url(#bl6)"/>
<ellipse cx="1190" cy="915" rx="14" ry="3" transform="rotate(-20 1190 915)" fill="#d8f0ff"/>
</g>
<g id="lid">
<path d="M527,392 Q523,377 535,367 L800,314.5 Q806,312.5 815,315 L1300,420 Q1338,428 1343,455 L1343,470 Q1343,477 1335,479 L1078,538 Q1060,543 1045,536 L527,400 Z" fill="#16181d"/>
<clipPath id="cpLid"><path d="M527,392 Q523,377 535,367 L800,314.5 Q806,312.5 815,315 L1300,420 Q1338,428 1343,455 L1343,470 Q1343,477 1335,479 L1078,538 Q1060,543 1045,536 L527,400 Z"/></clipPath>
<g clip-path="url(#cpLid)">
<!-- front rim body -->
<path d="M520,370 L549,368 L811,403 L1101,460 L1060,500 L1050,545 L520,405 Z" fill="url(#gLidFront)"/>
<!-- highlight band -->
<path d="M528,382 L601,386 L767,433 L1040,508" stroke="#7b8aa2" stroke-width="13" fill="none" opacity="0.75" filter="url(#bl6)"/>
<path d="M526,392 L560,405 L809,469 L1045,532" stroke="#0d0f13" stroke-width="10" fill="none" opacity="0.55" filter="url(#b3)"/>
<!-- top face -->
<path d="M542,369 Q530,371 538,366 L800,315.5 Q806,313.5 815,316 L1292,420.5 L1112,462 Q1104,463 1096,459 L811,403.5 Z" fill="url(#gLidTop)"/>
<path d="M549,369.5 L811,404 L1098,460" stroke="#2b313b" stroke-width="2.5" fill="none" opacity="0.6" filter="url(#b1)"/>
</g>
<path d="M530,388 Q526,376 537,368.5" stroke="#b4c0d2" stroke-width="3" opacity="0.7" fill="none" filter="url(#b1)"/>
<path d="M537,367.5 L800,315 Q806,313 815,315.6 L1300,420.5" stroke="#d5dbe8" stroke-width="1.4" opacity="0.6" fill="none"/>
<path d="M1052,501 Q1085,472 1112,463 L1292,420.5" stroke="#0b0c10" stroke-width="3" fill="none" opacity="0.85"/>
<path d="M1075,517 Q1100,490 1135,480" stroke="#3a3f49" stroke-width="4" fill="none" opacity="0.8" filter="url(#b1)"/>
<path d="M1303,430 Q1330,438 1334,462" stroke="#4a505b" stroke-width="9" fill="none" opacity="0.8" filter="url(#b3)"/>
<!-- latch -->
<path d="M1129,459.5 L1258.8,428 Q1282,429 1286,446 L1290,492 L1165,528.5 Q1150,503 1140,480 Q1134,466 1129,459.5 Z" fill="url(#gLatch)"/>
<path d="M1140,480 L1272,447" stroke="#e9eaeb" stroke-width="9" opacity="0.55" fill="none" filter="url(#b3)"/>
<!-- grooves -->
<path d="M820,403.5 L890,420 L1100,462 L1096,466 L884,424 Z" fill="#20242c" opacity="0.9"/>
<g fill="#181b21"><polygon points="887,429 918,424.5 910,421.5 870,425"/><polygon points="927,438.5 958,434 950,431 910,434.5"/><polygon points="967,447.5 998,443 990,440 950,443.5"/><polygon points="1008,457 1039,452.5 1031,449.5 991,453"/><polygon points="1050,466 1081,461.5 1073,458.5 1033,462"/></g>
<g fill="#1a1d24"><polygon points="1108,385 1124,388.5 1122,391 1106,387.5"/><polygon points="1155,395.5 1171,399 1169,401.5 1153,398"/><polygon points="1200,405.5 1216,409 1214,411.5 1198,408"/><polygon points="1245,415.5 1261,419 1259,421.5 1243,418"/></g>
</g>
<g id="holes">
<clipPath id="hc0"><ellipse cx="683.5" cy="356.2" rx="45.5" ry="10.2"/></clipPath>
<ellipse cx="683.5" cy="356.2" rx="47.0" ry="11.399999999999999" fill="#2a303b"/>
<ellipse cx="683.5" cy="356.2" rx="45.5" ry="10.2" fill="#11141a"/>
<g clip-path="url(#hc0)"><ellipse cx="683.5" cy="369.2" rx="44.1" ry="10.2" fill="#e3ebf7"/><ellipse cx="683.5" cy="359.2" rx="45.0" ry="9.2" fill="none" stroke="#3b4250" stroke-width="1.2"/></g>
<clipPath id="hc1"><ellipse cx="801.3" cy="337" rx="43" ry="9.2"/></clipPath>
<ellipse cx="801.3" cy="337" rx="44.5" ry="10.399999999999999" fill="#2a303b"/>
<ellipse cx="801.3" cy="337" rx="43" ry="9.2" fill="#11141a"/>
<g clip-path="url(#hc1)"><ellipse cx="801.3" cy="350" rx="41.7" ry="9.2" fill="#e3ebf7"/><ellipse cx="801.3" cy="340" rx="42.6" ry="8.3" fill="none" stroke="#3b4250" stroke-width="1.2"/></g>
<clipPath id="hc2"><ellipse cx="797.8" cy="384" rx="45.8" ry="10.5"/></clipPath>
<ellipse cx="797.8" cy="384" rx="47.3" ry="11.7" fill="#2a303b"/>
<ellipse cx="797.8" cy="384" rx="45.8" ry="10.5" fill="#11141a"/>
<g clip-path="url(#hc2)"><ellipse cx="797.8" cy="397" rx="44.4" ry="10.5" fill="#e3ebf7"/><ellipse cx="797.8" cy="387" rx="45.3" ry="9.5" fill="none" stroke="#3b4250" stroke-width="1.2"/></g>
<clipPath id="hc3"><ellipse cx="915" cy="362.8" rx="44.6" ry="9.5"/></clipPath>
<ellipse cx="915" cy="362.8" rx="46.1" ry="10.7" fill="#2a303b"/>
<ellipse cx="915" cy="362.8" rx="44.6" ry="9.5" fill="#11141a"/>
<g clip-path="url(#hc3)"><ellipse cx="915" cy="375.8" rx="43.3" ry="9.5" fill="#e3ebf7"/><ellipse cx="915" cy="365.8" rx="44.2" ry="8.6" fill="none" stroke="#3b4250" stroke-width="1.2"/></g>
</g>
<g id="rim">
<path d="M523,404 L790,474" stroke="#a9c4ff" stroke-width="10" opacity="0.55" fill="none" filter="url(#bl6)"/>
<path d="M760,468 L1059,548 L1308,495 L1308,485 L1340,479" stroke="#2f74ff" stroke-width="11" opacity="0.75" fill="none" filter="url(#bl6)"/>
<path d="M770,467 L1059,543 L1308,491 L1308,481 L1340,475" stroke="#4d8dff" stroke-width="5" opacity="0.9" fill="none" filter="url(#b1)"/>
<path d="M523,402 L1059,543 L1308,491 L1308,481 L1340,475" stroke="#e8f1ff" stroke-width="2.2" fill="none"/>
<ellipse cx="819" cy="484" rx="80" ry="15" transform="rotate(14 819 484)" fill="#3d86ff" opacity="0.75" filter="url(#bl6)"/>
<ellipse cx="819" cy="484" rx="42" ry="9" transform="rotate(14 819 484)" fill="#ffffff" filter="url(#bl6)"/>
<ellipse cx="819" cy="484" rx="22" ry="4" transform="rotate(14 819 484)" fill="#ffffff"/>
</g>
<g id="handle">
<path d="M1082,588 Q1081,577 1092,573 L1298,517.5 Q1310,515 1312,526 L1318,590 C1333,597 1345,612 1344.5,630 C1344,646 1335,652 1322,655 L1168,701 L1150,718 L1122,722 L1092,726 Q1083,726 1083,716 Z" fill="#3f3f3e"/>
<path d="M1082,588 Q1081,577 1092,573 L1298,517.5" stroke="#d9dde2" stroke-width="1.5" fill="none" opacity="0.8"/>
<path d="M1104,592 Q1103,583 1112,580 L1296,523 Q1305,521 1306.5,530 L1317,591 C1333,598 1347,612 1346.5,630 C1346,646 1336,652 1322,655.5 L1318,630 L1160,675 L1168,700 L1148,717 Q1128,722 1120,705 L1107,646 Z" fill="url(#gHandle)"/>
<polygon points="1141,641.5 1265.5,604.5 1268,640 1160,674" fill="#7d7d7c"/>
<polygon points="1265.5,604.5 1299,594.5 1318,629.5 1268,643" fill="#454545"/>
<polygon points="1160,675 1319,629 1322.5,655 1168,700" fill="url(#gGrip)"/>
<circle cx="1128.5" cy="695.5" r="12" fill="#5c5c5c" stroke="#c2c2c2" stroke-width="1"/>
<circle cx="1126.5" cy="645.5" r="4.6" fill="#1c1c1b"/><circle cx="1308" cy="587.5" r="4.6" fill="#1c1c1b"/>
<!-- display -->
<path d="M1153,567 L1267,535.5 Q1270,535 1271,538 L1277.5,585 Q1278,588.5 1275,589.5 L1165,622.5 Q1161.5,623 1160.5,620 L1150.5,571 Q1150,568 1153,567 Z" fill="#19191a" stroke="#e6e6e6" stroke-width="1.3"/>
<polygon points="1198.5,562.5 1226,555 1231,593 1203.5,601.5" fill="#2c3346" stroke="#aeb4c2" stroke-width="1.2"/>
<polygon points="1182,564 1195.5,560.5 1198,579 1185,582.5" fill="#dfe3ea" stroke="#58607a" stroke-width="1"/>
<polygon points="1186.5,592 1199.5,588.5 1202,607 1189.5,610.5" fill="#cfd4de" stroke="#58607a" stroke-width="1"/>
<polygon points="1228.5,549.5 1241,546 1243.5,564 1231,567.5" fill="#dfe3ea" stroke="#58607a" stroke-width="1"/>
<polygon points="1232.5,577.5 1245,574 1247.5,592 1235,595.5" fill="#dfe3ea" stroke="#58607a" stroke-width="1"/>
<circle cx="1190" cy="571.5" r="3.6" fill="none" stroke="#d8262c" stroke-width="1.6"/>
<circle cx="1194.3" cy="599.5" r="3.2" fill="#1d2233"/>
<polygon points="1236,551.5 1240.5,560.5 1232,562" fill="#1e49b8"/><polygon points="1236,583 1244,581 1240.5,590.5" fill="#1e49b8"/>
<text x="1204" y="577" font-size="11" fill="#5d6784" transform="rotate(-15 1204 577)" font-weight="bold">88</text>
<text x="1206" y="592" font-size="11" fill="#4d5672" transform="rotate(-15 1206 592)" font-weight="bold">88</text>
</g>
<g id="feet">
<path d="M986.5,936 Q986,930 992,931.5 L1046,948 L1079,940.5 Q1083,939.5 1083,944 L1080,962 Q1079.5,966 1075,968 L1052,979.5 Q1046,982 1040,979 L994,960 Q989.5,958 989,953 Z" fill="url(#gFoot)"/>
<path d="M987,934 Q986.5,930 992,931.5 L1046,948 L1080,940" stroke="#2d6fe8" stroke-width="2.5" fill="none"/>
<circle cx="999.5" cy="944.5" r="5.2" fill="#0d0f13" stroke="#5a6170" stroke-width="0.8"/><circle cx="999" cy="943.5" r="2.3" fill="#e6e9ee"/>
<circle cx="1070.5" cy="953.5" r="4.2" fill="#c9cfda" stroke="#39404c" stroke-width="1"/>
<path d="M1293,838 Q1294,830 1300,828 L1314,822 Q1319,821 1319,826 L1317,858 Q1316,863 1311,865 L1298,870 Q1293,871 1293,866 Z" fill="#31518f" stroke="#3a78e8" stroke-width="2"/>
<circle cx="1306.5" cy="847.5" r="4.5" fill="#c9cfda" stroke="#1d2430" stroke-width="1.5"/>
</g>
</g>
<g id="panels">
 <!-- liner (back) -->
 <g id="pLiner">
  <polygon points="409.2,543.9 714.6,623.5 712.6,965.3 411,853.7" fill="#ccc" filter="url(#texLiner)"/>
  
  <g clip-path="url(#cpLinerFront)">
   <polygon points="400,560 680,640 682,1000 400,1000" fill="#40444c" opacity="0.55" filter="url(#sh7)"/>
  </g>
  <polygon points="409.2,543.9 425.7,536.7 728.6,616.7 714.6,623.5" fill="url(#gLinerTop)"/>
  <polygon points="714.6,623.5 728.6,616.7 727,955.3 712.6,965.3" fill="url(#gLinerSide)" filter="url(#texSide)"/>
 </g>
 <!-- dark foam (middle) -->
 <g id="pDark">
  <polygon points="250.9,566.8 644.2,668.3 642.8,1108.6 253,974.5" fill="#3b4149" filter="url(#texDark)"/>
  <g clip-path="url(#cpDarkFront)">
   <path d="M225,610 L588,706 Q612,713 612,742 L612,1150 L225,1150 Z" fill="#0a0c10" opacity="0.4" filter="url(#sh7)"/>
  </g>
  <polygon points="250.9,566.8 272.6,557.5 662.3,660.9 644.2,668.3" fill="url(#gDarkTop)" filter="url(#texSide)"/>
  <polygon points="644.2,668.3 662.3,660.9 660.5,1096 642.8,1108.6" fill="url(#gDarkSide)"/>
 </g>
 <!-- front panel -->
 <g id="pFront">
  <polygon points="87.4,634 558,758.5 555,1284.6 94.9,1115.2" fill="#d2d2d2" filter="url(#texFront)"/>
  <polygon points="87.4,634 558,758.5 555,1284.6 94.9,1115.2" fill="url(#gFrontOv)"/>
  <polygon points="87.4,634 114.8,623.7 580.8,746.9 558,758.5" fill="url(#gFrontTop)"/>
  <polygon points="558,758.5 580.8,746.9 578.3,1268.8 555,1284.6" fill="url(#gFrontSide)" filter="url(#texSide)"/>
 </g>
</g>


<!-- headings -->
<g id="headings">
<text y="142.8" font-size="99" fill="#10337d" stroke="#10337d" stroke-width="7"><tspan x="107.1" textLength="61.2" lengthAdjust="spacingAndGlyphs">T</tspan><tspan x="175.2" textLength="80.3" lengthAdjust="spacingAndGlyphs">H</tspan><tspan x="264.6" textLength="65.4" lengthAdjust="spacingAndGlyphs">R</tspan><tspan x="336.1" textLength="55.5" lengthAdjust="spacingAndGlyphs">E</tspan><tspan x="395.1" textLength="55.5" lengthAdjust="spacingAndGlyphs">E</tspan><tspan x="460.5" textLength="29.0" lengthAdjust="spacingAndGlyphs">-</tspan><tspan x="502.0" textLength="50.8" lengthAdjust="spacingAndGlyphs">L</tspan><tspan x="557.0" textLength="77.6" lengthAdjust="spacingAndGlyphs">A</tspan><tspan x="638.2" textLength="66.7" lengthAdjust="spacingAndGlyphs">Y</tspan><tspan x="710.0" textLength="55.5" lengthAdjust="spacingAndGlyphs">E</tspan><tspan x="772.2" textLength="65.8" lengthAdjust="spacingAndGlyphs">R</tspan></text>
<text y="217.7" font-size="52" fill="#04102f" stroke="#04102f" stroke-width="4.2"><tspan x="105.7" textLength="32.1" lengthAdjust="spacingAndGlyphs">T</tspan><tspan x="142.3" textLength="42.3" lengthAdjust="spacingAndGlyphs">H</tspan><tspan x="188.8" textLength="27.7" lengthAdjust="spacingAndGlyphs">E</tspan><tspan x="221.6" textLength="33.7" lengthAdjust="spacingAndGlyphs">R</tspan><tspan x="260.2" textLength="53.1" lengthAdjust="spacingAndGlyphs">M</tspan><tspan x="316.2" textLength="40.3" lengthAdjust="spacingAndGlyphs">A</tspan><tspan x="362.1" textLength="25.6" lengthAdjust="spacingAndGlyphs">L</tspan><tspan x="391.1"> </tspan><tspan x="406.9" textLength="18.1" lengthAdjust="spacingAndGlyphs">I</tspan><tspan x="428.0" textLength="42.7" lengthAdjust="spacingAndGlyphs">N</tspan><tspan x="475.7" textLength="29.1" lengthAdjust="spacingAndGlyphs">S</tspan><tspan x="509.5" textLength="36.6" lengthAdjust="spacingAndGlyphs">U</tspan><tspan x="551.8" textLength="25.7" lengthAdjust="spacingAndGlyphs">L</tspan><tspan x="580.8" textLength="40.8" lengthAdjust="spacingAndGlyphs">A</tspan><tspan x="625.0" textLength="32.5" lengthAdjust="spacingAndGlyphs">T</tspan><tspan x="662.2" textLength="14.9" lengthAdjust="spacingAndGlyphs">I</tspan><tspan x="681.3" textLength="40.9" lengthAdjust="spacingAndGlyphs">O</tspan><tspan x="726.9" textLength="41.6" lengthAdjust="spacingAndGlyphs">N</tspan><tspan x="771.2"> </tspan><tspan x="790.1" textLength="28.2" lengthAdjust="spacingAndGlyphs">S</tspan><tspan x="821.4" textLength="32.9" lengthAdjust="spacingAndGlyphs">T</tspan><tspan x="859.8" textLength="34.6" lengthAdjust="spacingAndGlyphs">R</tspan><tspan x="898.1" textLength="39.6" lengthAdjust="spacingAndGlyphs">U</tspan><tspan x="941.4" textLength="31.3" lengthAdjust="spacingAndGlyphs">C</tspan><tspan x="977.6" textLength="32.1" lengthAdjust="spacingAndGlyphs">T</tspan><tspan x="1016.0" textLength="38.1" lengthAdjust="spacingAndGlyphs">U</tspan><tspan x="1058.4" textLength="33.7" lengthAdjust="spacingAndGlyphs">R</tspan><tspan x="1097.4" textLength="27.7" lengthAdjust="spacingAndGlyphs">E</tspan></text>
<text x="104" y="291.2" font-size="48.5" fill="#04102f" stroke="#04102f" stroke-width="0.5" textLength="603" lengthAdjust="spacingAndGlyphs">Long-term Insulation Effect</text>
</g>

<!-- icon -->
<g id="icon">
<rect x="107" y="339.5" width="143" height="143" rx="25" fill="#ffffff" opacity="0.9" filter="url(#blur3)"/>
<rect x="110" y="342.5" width="137" height="137" rx="22" fill="url(#icg)"/>
<g fill="none" stroke="#8d9fc9" stroke-linecap="round" stroke-linejoin="round">
 <g stroke-width="3.3" transform="translate(150.8,396)">
  <circle r="6.4" stroke-width="3"/>
  <g id="arm"><path d="M0,-8 V-23.5 M-7,-21 L0,-15 L7,-21"/></g>
  <use href="#arm" transform="rotate(60)"/><use href="#arm" transform="rotate(120)"/><use href="#arm" transform="rotate(180)"/><use href="#arm" transform="rotate(240)"/><use href="#arm" transform="rotate(300)"/>
 </g>
 <path stroke-width="3.7" d="M182.4,427 V370.6 a8.5,8.5 0 0 1 17,0 V427 a17.8,17.8 0 1 1 -17,0 Z"/>
 <circle cx="190.9" cy="442.7" r="7.3" stroke-width="3.7"/>
 <path stroke-width="3.5" d="M190.9,435 V410.5"/>
 <path stroke-width="3.7" d="M209.5,375.2 H217.7 M209.5,383.9 H212.7 M209.5,393 H217.7 M209.5,401.8 H212.7 M209.5,410.9 H217.7 M209.5,419.9 H212.7"/>
</g>
</g>

<!-- leader lines + dots -->
<g id="leaders" fill="none" stroke="#070e2c" stroke-width="2.3">
<path d="M696.6,914 V1057.5 a13,13 0 0 0 13,13 H1071"/>
<path d="M620,1017 V1160 a13,13 0 0 0 13,13 H861"/>
<path d="M521.2,1162 V1307 a13,13 0 0 0 13,13 H861"/>
</g>
<g id="dots">
<circle cx="696.3" cy="914.3" r="13.5" fill="#fff" opacity="0.95" filter="url(#blur2)"/>
<circle cx="619.7" cy="1016.7" r="13.5" fill="#fff" opacity="0.95" filter="url(#blur2)"/>
<circle cx="521" cy="1161.7" r="13.5" fill="#fff" opacity="0.95" filter="url(#blur2)"/>
<circle cx="696.3" cy="914.3" r="9" fill="url(#gDot)" filter="url(#b08)"/>
<circle cx="619.7" cy="1016.7" r="9" fill="url(#gDot)" filter="url(#b08)"/>
<circle cx="521" cy="1161.7" r="9" fill="url(#gDot)" filter="url(#b08)"/>
</g>

<!-- labels -->
<g id="labels">
<rect x="1070" y="1046" width="225" height="50" rx="9" fill="url(#lbg)"/>
<rect x="860" y="1125" width="435" height="95.7" rx="17" fill="url(#lbg)"/>
<rect x="860" y="1270" width="435" height="95.7" rx="17" fill="url(#lbg)"/>
<g fill="#ffffff" font-size="35.7">
<text x="1089.2" y="1081.8" font-size="36.6" textLength="175.8" lengthAdjust="spacingAndGlyphs">Liner: HIPS</text>
<text x="986.5" y="1163.5" textLength="278" lengthAdjust="spacingAndGlyphs">Internal Padding:</text>
<text x="891.9" y="1204.7" textLength="373" lengthAdjust="spacingAndGlyphs">Extra Thick Foam Layer</text>
<text x="986.5" y="1308.5" textLength="278" lengthAdjust="spacingAndGlyphs">Internal Padding:</text>
<text x="891.9" y="1349.7" textLength="373" lengthAdjust="spacingAndGlyphs">Extra Thick Foam Layer</text>
</g>
</g>
</svg>
</body>
</html>
